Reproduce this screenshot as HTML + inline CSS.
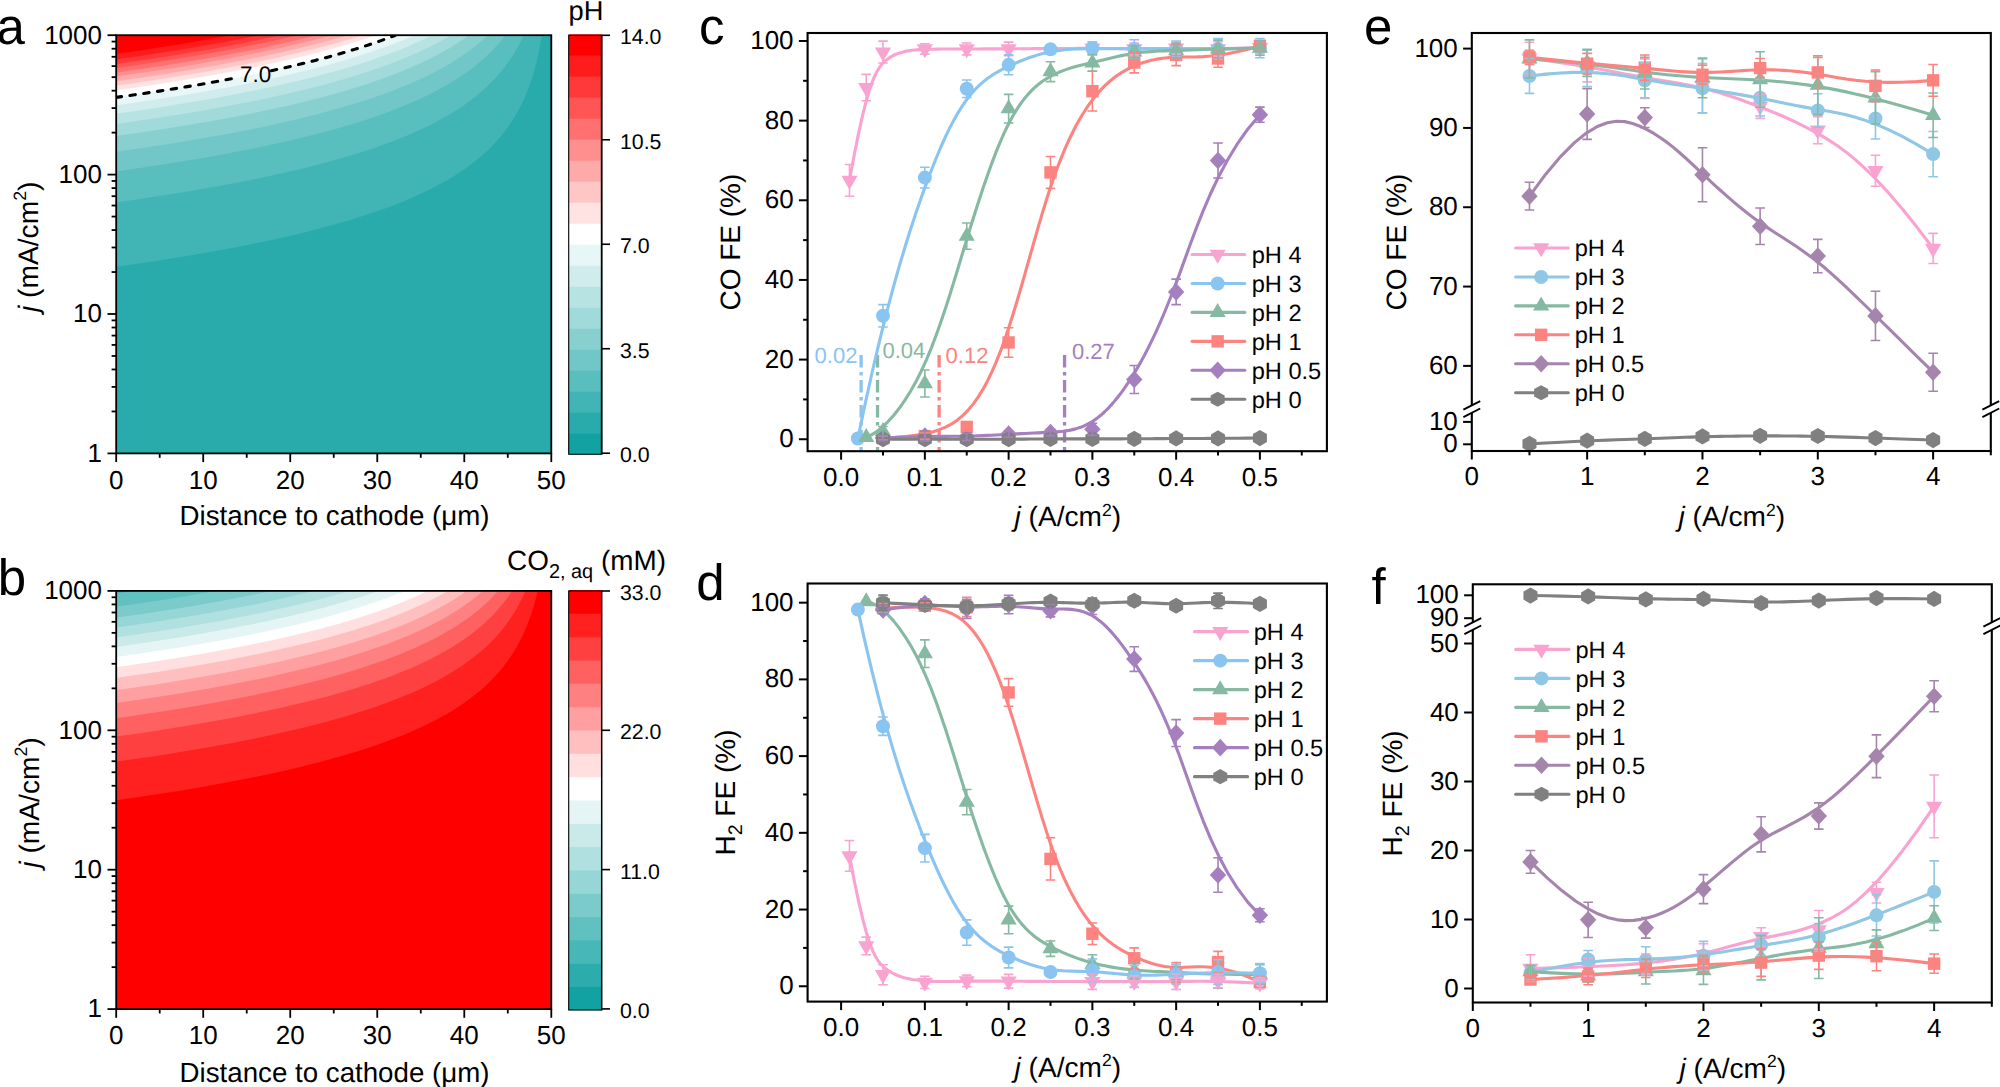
<!DOCTYPE html>
<html lang="en"><head><meta charset="utf-8"><title>Figure</title>
<style>html,body{margin:0;padding:0;background:#fff}svg{display:block}</style></head>
<body>
<svg width="2000" height="1087" viewBox="0 0 2000 1087" font-family='"Liberation Sans", sans-serif' text-rendering="geometricPrecision">
<rect width="2000" height="1087" fill="#fff"/>
<clipPath id="clipa"><rect x="116.2" y="35.2" width="435.1" height="418.2"/></clipPath>
<g clip-path="url(#clipa)">
<rect x="116.2" y="35.2" width="435.1" height="418.2" fill="#2aabab"/>
<path d="M116.2,266.7 130.27,264.71 144.1,262.69 157.7,260.63 171.05,258.54 184.18,256.42 197.06,254.25 209.71,252.05 222.13,249.81 234.3,247.53 246.24,245.2 257.95,242.83 269.41,240.42 280.65,237.96 291.64,235.45 302.4,232.89 312.92,230.27 323.21,227.6 333.25,224.87 343.07,222.09 352.64,219.24 361.98,216.32 371.08,213.34 379.95,210.28 388.58,207.15 396.98,203.95 405.13,200.66 413.05,197.29 420.74,193.83 428.19,190.27 435.4,186.62 442.37,182.86 449.11,178.99 455.61,175.01 461.88,170.91 467.91,166.69 473.7,162.33 479.26,157.83 484.58,153.18 489.66,148.39 494.51,143.43 499.12,138.3 503.49,133 507.63,127.52 511.53,121.86 515.2,116 518.62,109.96 521.82,103.74 524.77,97.34 527.49,90.8 529.97,84.13 532.22,77.39 534.23,70.65 536,64.01 537.54,57.6 538.84,51.59 539.9,46.19 540.73,41.62 541.32,38.14 541.68,35.95 541.8,35.2 L114.2,33.2 L114.2,266.7 Z" fill="#41b5b5"/>
<path d="M116.2,202.3 129.67,200.4 142.92,198.46 155.94,196.5 168.73,194.51 181.3,192.49 193.64,190.43 205.75,188.35 217.64,186.23 229.3,184.08 240.73,181.89 251.94,179.66 262.92,177.4 273.68,175.1 284.21,172.76 294.51,170.38 304.59,167.95 314.44,165.49 324.06,162.98 333.45,160.42 342.63,157.81 351.57,155.16 360.29,152.46 368.78,149.71 377.04,146.9 385.08,144.04 392.89,141.13 400.48,138.16 407.84,135.13 414.97,132.04 421.87,128.9 428.55,125.69 435.01,122.42 441.23,119.09 447.23,115.69 453.01,112.24 458.55,108.72 463.88,105.14 468.97,101.51 473.84,97.82 478.48,94.08 482.9,90.29 487.08,86.47 491.05,82.61 494.78,78.73 498.29,74.85 501.58,70.98 504.63,67.14 507.46,63.35 510.07,59.65 512.44,56.05 514.6,52.6 516.52,49.34 518.22,46.31 519.69,43.56 520.93,41.12 521.95,39.06 522.75,37.4 523.31,36.19 523.65,35.45 523.77,35.2 L114.2,33.2 L114.2,202.3 Z" fill="#59bebe"/>
<path d="M116.2,171.4 129.07,169.58 141.72,167.74 154.15,165.87 166.37,163.98 178.37,162.07 190.15,160.12 201.72,158.15 213.07,156.15 224.21,154.13 235.13,152.07 245.83,149.98 256.32,147.87 266.59,145.72 276.65,143.55 286.49,141.34 296.11,139.1 305.52,136.82 314.71,134.52 323.68,132.18 332.44,129.8 340.98,127.39 349.3,124.95 357.41,122.46 365.31,119.95 372.98,117.4 380.44,114.81 387.69,112.19 394.71,109.53 401.53,106.84 408.12,104.11 414.5,101.35 420.66,98.56 426.61,95.74 432.34,92.89 437.85,90.02 443.15,87.12 448.23,84.21 453.1,81.28 457.75,78.35 462.18,75.41 466.4,72.47 470.4,69.55 474.18,66.65 477.75,63.78 481.1,60.96 484.24,58.19 487.16,55.5 489.86,52.89 492.35,50.39 494.62,48.01 496.67,45.78 498.51,43.71 500.13,41.82 501.54,40.13 502.73,38.67 503.7,37.44 504.46,36.47 505,35.77 505.32,35.34 505.43,35.2 L114.2,33.2 L114.2,171.4 Z" fill="#71c7c7"/>
<path d="M116.2,151.7 128.48,149.97 140.56,148.21 152.43,146.44 164.09,144.64 175.55,142.82 186.8,140.98 197.85,139.12 208.68,137.23 219.32,135.32 229.74,133.39 239.96,131.44 249.97,129.46 259.78,127.46 269.38,125.43 278.77,123.38 287.96,121.3 296.94,119.2 305.71,117.08 314.28,114.93 322.64,112.75 330.79,110.55 338.74,108.33 346.48,106.09 354.02,103.82 361.34,101.52 368.47,99.21 375.38,96.88 382.09,94.52 388.59,92.15 394.89,89.76 400.98,87.36 406.86,84.94 412.54,82.51 418.01,80.08 423.28,77.64 428.33,75.2 433.18,72.76 437.83,70.33 442.27,67.92 446.5,65.52 450.52,63.15 454.34,60.81 457.96,58.51 461.36,56.26 464.56,54.07 467.56,51.94 470.34,49.89 472.92,47.93 475.3,46.07 477.46,44.32 479.43,42.69 481.18,41.19 482.73,39.84 484.07,38.64 485.21,37.61 486.14,36.75 486.86,36.08 487.37,35.59 487.68,35.3 487.79,35.2 L114.2,33.2 L114.2,151.7 Z" fill="#88d0d0"/>
<path d="M116.2,136 127.86,134.36 139.33,132.69 150.6,131.01 161.67,129.32 172.55,127.6 183.23,125.87 193.71,124.12 204,122.35 214.1,120.57 223.99,118.77 233.7,116.94 243.2,115.1 252.51,113.25 261.62,111.37 270.54,109.48 279.26,107.57 287.79,105.64 296.12,103.7 304.25,101.73 312.19,99.76 319.93,97.76 327.48,95.76 334.83,93.74 341.98,91.7 348.94,89.65 355.7,87.6 362.27,85.53 368.64,83.46 374.81,81.37 380.79,79.29 386.57,77.2 392.15,75.11 397.54,73.02 402.74,70.94 407.74,68.87 412.54,66.81 417.14,64.77 421.55,62.75 425.77,60.75 429.78,58.78 433.61,56.84 437.23,54.95 440.66,53.1 443.9,51.3 446.93,49.57 449.78,47.9 452.42,46.3 454.87,44.78 457.13,43.35 459.18,42.01 461.05,40.77 462.71,39.65 464.18,38.63 465.46,37.74 466.53,36.98 467.41,36.34 468.1,35.85 468.59,35.49 468.88,35.27 468.98,35.2 L114.2,33.2 L114.2,136 Z" fill="#a0dada"/>
<path d="M116.2,124 127.26,122.44 138.14,120.87 148.84,119.28 159.34,117.68 169.66,116.06 179.8,114.43 189.75,112.79 199.51,111.13 209.09,109.46 218.48,107.78 227.69,106.08 236.71,104.37 245.54,102.64 254.19,100.91 262.65,99.16 270.92,97.4 279.01,95.62 286.92,93.84 294.63,92.05 302.17,90.24 309.51,88.43 316.67,86.61 323.64,84.79 330.43,82.95 337.03,81.12 343.45,79.28 349.68,77.43 355.72,75.59 361.58,73.75 367.25,71.91 372.74,70.08 378.04,68.26 383.15,66.44 388.08,64.64 392.82,62.86 397.38,61.09 401.75,59.35 405.93,57.63 409.93,55.94 413.74,54.28 417.37,52.67 420.81,51.09 424.07,49.56 427.13,48.08 430.02,46.66 432.71,45.3 435.22,44.01 437.55,42.78 439.69,41.63 441.64,40.56 443.41,39.58 444.99,38.69 446.38,37.89 447.59,37.19 448.61,36.59 449.45,36.09 450.1,35.7 450.57,35.42 450.84,35.26 450.94,35.2 L114.2,33.2 L114.2,124 Z" fill="#b8e3e3"/>
<path d="M116.2,113.6 126.64,112.13 136.91,110.65 147,109.15 156.92,107.65 166.66,106.14 176.23,104.61 185.62,103.08 194.83,101.53 203.87,99.98 212.73,98.41 221.42,96.84 229.93,95.26 238.27,93.67 246.43,92.07 254.42,90.46 262.23,88.84 269.86,87.22 277.32,85.6 284.61,83.97 291.71,82.33 298.65,80.69 305.41,79.05 311.99,77.41 318.39,75.77 324.62,74.12 330.68,72.49 336.56,70.85 342.26,69.22 347.79,67.6 353.15,65.98 358.32,64.38 363.32,62.79 368.15,61.22 372.8,59.66 377.28,58.12 381.58,56.61 385.7,55.12 389.65,53.66 393.43,52.23 397.02,50.83 400.45,49.47 403.69,48.15 406.76,46.88 409.66,45.66 412.38,44.48 414.93,43.36 417.3,42.3 419.49,41.3 421.51,40.37 423.35,39.5 425.02,38.71 426.51,37.99 427.83,37.35 428.97,36.78 429.93,36.3 430.72,35.91 431.34,35.6 431.78,35.38 432.04,35.24 432.13,35.2 L114.2,33.2 L114.2,113.6 Z" fill="#d0ecec"/>
<path d="M116.2,105.3 126.06,103.91 135.76,102.51 145.3,101.11 154.66,99.7 163.86,98.28 172.9,96.85 181.77,95.41 190.47,93.97 199.01,92.52 207.38,91.06 215.59,89.6 223.63,88.13 231.5,86.66 239.21,85.18 246.76,83.7 254.13,82.22 261.35,80.73 268.39,79.24 275.27,77.75 281.99,76.26 288.53,74.77 294.92,73.28 301.13,71.79 307.19,70.31 313.07,68.83 318.79,67.36 324.34,65.9 329.73,64.44 334.96,63 340.01,61.57 344.9,60.15 349.63,58.75 354.19,57.36 358.58,56 362.81,54.66 366.87,53.34 370.76,52.05 374.5,50.78 378.06,49.55 381.46,48.35 384.69,47.19 387.76,46.06 390.66,44.98 393.39,43.94 395.96,42.94 398.37,42 400.61,41.11 402.68,40.27 404.59,39.49 406.33,38.76 407.9,38.1 409.31,37.51 410.55,36.97 411.63,36.51 412.54,36.11 413.29,35.78 413.87,35.53 414.28,35.35 414.53,35.24 414.62,35.2 L114.2,33.2 L114.2,105.3 Z" fill="#e7f6f6"/>
<path d="M116.2,97.4 125.43,96.1 134.51,94.8 143.44,93.49 152.21,92.17 160.82,90.85 169.28,89.52 177.58,88.19 185.73,86.86 193.72,85.52 201.56,84.18 209.24,82.83 216.77,81.49 224.14,80.14 231.36,78.79 238.42,77.44 245.33,76.08 252.08,74.73 258.68,73.38 265.12,72.04 271.4,70.69 277.53,69.35 283.51,68.02 289.33,66.69 294.99,65.36 300.5,64.05 305.86,62.74 311.06,61.44 316.1,60.16 320.99,58.89 325.72,57.63 330.3,56.39 334.72,55.16 338.99,53.96 343.11,52.78 347.06,51.61 350.87,50.48 354.51,49.36 358,48.28 361.34,47.23 364.52,46.2 367.55,45.21 370.42,44.26 373.14,43.34 375.7,42.47 378.1,41.63 380.35,40.84 382.45,40.09 384.39,39.4 386.17,38.74 387.8,38.14 389.28,37.6 390.6,37.1 391.76,36.66 392.77,36.28 393.62,35.95 394.32,35.68 394.86,35.47 395.25,35.32 395.49,35.23 395.56,35.2 L114.2,33.2 L114.2,97.4 Z" fill="#ffffff"/>
<path d="M116.2,90.3 124.79,89.09 133.24,87.88 141.55,86.67 149.71,85.45 157.73,84.23 165.6,83 173.32,81.78 180.91,80.55 188.35,79.32 195.64,78.09 202.79,76.87 209.79,75.64 216.66,74.41 223.37,73.18 229.94,71.95 236.37,70.73 242.65,69.51 248.79,68.3 254.79,67.08 260.64,65.88 266.34,64.68 271.9,63.48 277.32,62.3 282.59,61.12 287.72,59.96 292.7,58.8 297.54,57.66 302.23,56.53 306.78,55.41 311.19,54.31 315.45,53.23 319.57,52.16 323.54,51.11 327.37,50.09 331.05,49.08 334.59,48.1 337.98,47.15 341.23,46.22 344.34,45.32 347.3,44.44 350.11,43.6 352.79,42.79 355.31,42.02 357.7,41.28 359.94,40.57 362.03,39.91 363.98,39.28 365.79,38.69 367.45,38.15 368.96,37.65 370.34,37.19 371.56,36.78 372.65,36.41 373.59,36.09 374.38,35.82 375.03,35.6 375.53,35.42 375.9,35.3 376.11,35.22 376.18,35.2 L114.2,33.2 L114.2,90.3 Z" fill="#ffe3e3"/>
<path d="M116.2,85.7 124.34,84.56 132.34,83.41 140.2,82.26 147.93,81.12 155.52,79.97 162.97,78.82 170.29,77.66 177.47,76.51 184.51,75.36 191.42,74.21 198.19,73.06 204.82,71.91 211.31,70.77 217.67,69.62 223.9,68.48 229.98,67.35 235.93,66.22 241.74,65.09 247.42,63.97 252.96,62.86 258.36,61.75 263.62,60.65 268.75,59.56 273.74,58.48 278.6,57.42 283.32,56.36 287.9,55.32 292.34,54.28 296.65,53.27 300.82,52.27 304.85,51.29 308.75,50.32 312.51,49.38 316.14,48.45 319.62,47.54 322.98,46.66 326.19,45.8 329.27,44.97 332.21,44.16 335.01,43.38 337.68,42.63 340.21,41.91 342.6,41.22 344.86,40.56 346.98,39.94 348.96,39.35 350.8,38.79 352.51,38.28 354.09,37.79 355.52,37.35 356.82,36.95 357.98,36.59 359.01,36.26 359.9,35.98 360.65,35.75 361.27,35.55 361.75,35.4 362.09,35.29 362.29,35.22 362.36,35.2 L114.2,33.2 L114.2,85.7 Z" fill="#ffc6c6"/>
<path d="M116.2,81.2 123.86,80.13 131.38,79.05 138.78,77.97 146.05,76.9 153.19,75.82 160.2,74.75 167.08,73.67 173.84,72.6 180.46,71.52 186.96,70.45 193.33,69.39 199.57,68.32 205.68,67.26 211.66,66.2 217.52,65.15 223.24,64.1 228.84,63.06 234.31,62.03 239.65,61 244.86,59.98 249.94,58.97 254.89,57.96 259.72,56.97 264.41,55.99 268.98,55.01 273.42,54.05 277.73,53.11 281.91,52.18 285.96,51.26 289.89,50.36 293.68,49.47 297.35,48.6 300.89,47.75 304.3,46.92 307.58,46.11 310.73,45.33 313.75,44.56 316.65,43.82 319.41,43.1 322.05,42.41 324.56,41.74 326.94,41.1 329.19,40.49 331.31,39.91 333.31,39.36 335.17,38.84 336.91,38.35 338.52,37.89 340,37.47 341.35,37.08 342.57,36.73 343.66,36.41 344.63,36.13 345.47,35.88 346.17,35.68 346.75,35.51 347.2,35.37 347.52,35.28 347.72,35.22 347.78,35.2 L114.2,33.2 L114.2,81.2 Z" fill="#ffaaaa"/>
<path d="M116.2,76.6 123.32,75.6 130.33,74.6 137.21,73.6 143.98,72.61 150.62,71.61 157.15,70.62 163.55,69.62 169.84,68.63 176.01,67.65 182.05,66.66 187.98,65.69 193.79,64.71 199.47,63.74 205.04,62.77 210.49,61.81 215.82,60.86 221.02,59.91 226.11,58.97 231.08,58.04 235.93,57.12 240.66,56.2 245.27,55.3 249.76,54.4 254.13,53.52 258.38,52.65 262.51,51.79 266.52,50.94 270.41,50.11 274.18,49.29 277.84,48.48 281.37,47.7 284.78,46.93 288.07,46.17 291.25,45.44 294.3,44.73 297.23,44.03 300.05,43.36 302.74,42.7 305.31,42.07 307.77,41.47 310.1,40.88 312.32,40.32 314.41,39.79 316.39,39.28 318.25,38.8 319.98,38.35 321.6,37.93 323.09,37.53 324.47,37.16 325.73,36.83 326.87,36.52 327.88,36.25 328.78,36 329.56,35.79 330.22,35.61 330.76,35.46 331.18,35.35 331.48,35.27 331.66,35.22 331.72,35.2 L114.2,33.2 L114.2,76.6 Z" fill="#ff8e8e"/>
<path d="M116.2,72.6 122.83,71.67 129.35,70.74 135.75,69.82 142.04,68.89 148.23,67.97 154.3,67.05 160.26,66.14 166.11,65.22 171.84,64.32 177.47,63.41 182.98,62.51 188.39,61.62 193.68,60.73 198.86,59.84 203.93,58.97 208.88,58.1 213.73,57.23 218.46,56.38 223.09,55.53 227.6,54.69 232,53.87 236.29,53.05 240.46,52.24 244.53,51.44 248.49,50.66 252.33,49.88 256.06,49.12 259.68,48.38 263.19,47.64 266.59,46.92 269.87,46.22 273.05,45.54 276.11,44.86 279.06,44.21 281.91,43.58 284.63,42.96 287.25,42.36 289.76,41.79 292.15,41.23 294.44,40.69 296.61,40.18 298.67,39.69 300.62,39.22 302.46,38.77 304.18,38.35 305.8,37.95 307.3,37.58 308.7,37.24 309.98,36.91 311.15,36.62 312.21,36.35 313.15,36.11 313.99,35.9 314.71,35.72 315.32,35.56 315.83,35.43 316.22,35.33 316.49,35.26 316.66,35.21 316.72,35.2 L114.2,33.2 L114.2,72.6 Z" fill="#ff7171"/>
<path d="M116.2,68 122.22,67.16 128.13,66.32 133.94,65.48 139.66,64.64 145.27,63.81 150.78,62.99 156.19,62.16 161.5,61.34 166.7,60.53 171.81,59.72 176.82,58.92 181.72,58.12 186.52,57.33 191.22,56.54 195.82,55.76 200.32,54.99 204.72,54.23 209.02,53.47 213.22,52.73 217.31,51.99 221.3,51.26 225.2,50.54 228.99,49.83 232.68,49.14 236.27,48.45 239.76,47.78 243.14,47.12 246.43,46.47 249.61,45.83 252.7,45.21 255.68,44.6 258.56,44.01 261.34,43.43 264.02,42.87 266.6,42.32 269.08,41.79 271.45,41.28 273.73,40.79 275.9,40.31 277.98,39.85 279.95,39.42 281.82,39 283.59,38.6 285.26,38.22 286.82,37.86 288.29,37.52 289.65,37.21 290.92,36.92 292.08,36.65 293.14,36.4 294.1,36.17 294.96,35.97 295.72,35.79 296.38,35.63 296.93,35.5 297.39,35.39 297.74,35.31 298,35.25 298.15,35.21 298.2,35.2 L114.2,33.2 L114.2,68 Z" fill="#ff5555"/>
<path d="M116.2,64 121.64,63.24 127,62.48 132.26,61.72 137.43,60.97 142.51,60.22 147.5,59.48 152.39,58.74 157.19,58.01 161.91,57.28 166.53,56.56 171.06,55.84 175.5,55.13 179.84,54.43 184.1,53.73 188.26,53.04 192.33,52.36 196.31,51.68 200.2,51.01 204,50.35 207.71,49.71 211.32,49.07 214.84,48.43 218.27,47.81 221.61,47.2 224.86,46.6 228.02,46.02 231.09,45.44 234.06,44.87 236.94,44.32 239.73,43.78 242.43,43.25 245.04,42.74 247.56,42.24 249.98,41.76 252.32,41.29 254.56,40.83 256.71,40.39 258.77,39.97 260.73,39.56 262.61,39.16 264.39,38.79 266.09,38.43 267.69,38.09 269.2,37.77 270.62,37.46 271.94,37.18 273.18,36.91 274.32,36.66 275.37,36.43 276.34,36.22 277.2,36.02 277.98,35.85 278.67,35.7 279.26,35.57 279.77,35.46 280.18,35.36 280.5,35.29 280.73,35.24 280.87,35.21 280.91,35.2 L114.2,33.2 L114.2,64 Z" fill="#ff3939"/>
<path d="M116.2,59.4 120.94,58.74 125.6,58.08 130.18,57.42 134.68,56.77 139.1,56.13 143.44,55.49 147.7,54.85 151.88,54.22 155.98,53.59 160.01,52.98 163.95,52.36 167.81,51.76 171.59,51.16 175.3,50.56 178.92,49.98 182.47,49.4 185.93,48.83 189.32,48.26 192.62,47.71 195.85,47.16 198.99,46.62 202.06,46.09 205.05,45.57 207.95,45.06 210.78,44.56 213.53,44.07 216.2,43.59 218.79,43.12 221.29,42.66 223.72,42.22 226.07,41.78 228.34,41.36 230.53,40.94 232.64,40.54 234.68,40.16 236.63,39.78 238.5,39.42 240.29,39.07 242,38.74 243.64,38.42 245.19,38.11 246.66,37.82 248.06,37.54 249.37,37.28 250.61,37.03 251.76,36.8 252.84,36.58 253.83,36.38 254.75,36.19 255.58,36.02 256.34,35.87 257.02,35.73 257.61,35.6 258.13,35.5 258.57,35.41 258.93,35.33 259.21,35.27 259.41,35.23 259.53,35.21 259.57,35.2 L114.2,33.2 L114.2,59.4 Z" fill="#ff1c1c"/>
<path d="M116.2,53.8 120,53.27 123.74,52.74 127.42,52.22 131.03,51.7 134.58,51.19 138.07,50.68 141.49,50.17 144.85,49.68 148.14,49.18 151.37,48.7 154.53,48.22 157.63,47.74 160.67,47.27 163.64,46.81 166.55,46.35 169.4,45.9 172.18,45.46 174.9,45.03 177.55,44.6 180.14,44.18 182.67,43.76 185.13,43.36 187.53,42.96 189.86,42.57 192.13,42.19 194.34,41.82 196.48,41.45 198.56,41.1 200.57,40.75 202.52,40.41 204.41,40.08 206.23,39.77 207.99,39.46 209.68,39.16 211.31,38.87 212.88,38.59 214.38,38.32 215.82,38.06 217.19,37.81 218.5,37.57 219.75,37.34 220.93,37.13 222.05,36.92 223.11,36.73 224.1,36.55 225.03,36.37 225.89,36.21 226.69,36.06 227.42,35.93 228.1,35.8 228.7,35.69 229.25,35.59 229.73,35.5 230.14,35.42 230.49,35.35 230.78,35.3 231,35.25 231.16,35.22 231.26,35.21 231.29,35.2 L114.2,33.2 L114.2,53.8 Z" fill="#ff0000"/>
</g>
<path d="M116.2,97.4 125.43,96.1 134.51,94.8 143.44,93.49 152.21,92.17 160.82,90.85 169.28,89.52 177.58,88.19 185.73,86.86 193.72,85.52 201.56,84.18 209.24,82.83 216.77,81.49 224.14,80.14 231.36,78.79" fill="none" stroke="#000" stroke-width="3.1" stroke-linecap="round" stroke-dasharray="5.4 8.5" clip-path="url(#clipa)"/>
<path d="M271.4,70.69 277.53,69.35 283.51,68.02 289.33,66.69 294.99,65.36 300.5,64.05 305.86,62.74 311.06,61.44 316.1,60.16 320.99,58.89 325.72,57.63 330.3,56.39 334.72,55.16 338.99,53.96 343.11,52.78 347.06,51.61 350.87,50.48 354.51,49.36 358,48.28 361.34,47.23 364.52,46.2 367.55,45.21 370.42,44.26 373.14,43.34 375.7,42.47 378.1,41.63 380.35,40.84 382.45,40.09 384.39,39.4 386.17,38.74 387.8,38.14 389.28,37.6 390.6,37.1 391.76,36.66 392.77,36.28 393.62,35.95 394.32,35.68 394.86,35.47 395.25,35.32 395.49,35.23 395.56,35.2" fill="none" stroke="#000" stroke-width="3.1" stroke-linecap="round" stroke-dasharray="5.4 8.5" clip-path="url(#clipa)"/>
<rect x="116.2" y="35.2" width="435.1" height="418.2" fill="none" stroke="#000" stroke-width="1.8"/>
<line x1="107.5" y1="453.4" x2="116.2" y2="453.4" stroke="#000" stroke-width="1.8"/>
<line x1="111.6" y1="411.44" x2="116.2" y2="411.44" stroke="#000" stroke-width="1.8"/>
<line x1="111.6" y1="386.89" x2="116.2" y2="386.89" stroke="#000" stroke-width="1.8"/>
<line x1="111.6" y1="369.47" x2="116.2" y2="369.47" stroke="#000" stroke-width="1.8"/>
<line x1="111.6" y1="355.96" x2="116.2" y2="355.96" stroke="#000" stroke-width="1.8"/>
<line x1="111.6" y1="344.93" x2="116.2" y2="344.93" stroke="#000" stroke-width="1.8"/>
<line x1="111.6" y1="335.59" x2="116.2" y2="335.59" stroke="#000" stroke-width="1.8"/>
<line x1="111.6" y1="327.51" x2="116.2" y2="327.51" stroke="#000" stroke-width="1.8"/>
<line x1="111.6" y1="320.38" x2="116.2" y2="320.38" stroke="#000" stroke-width="1.8"/>
<line x1="107.5" y1="314" x2="116.2" y2="314" stroke="#000" stroke-width="1.8"/>
<line x1="111.6" y1="272.04" x2="116.2" y2="272.04" stroke="#000" stroke-width="1.8"/>
<line x1="111.6" y1="247.49" x2="116.2" y2="247.49" stroke="#000" stroke-width="1.8"/>
<line x1="111.6" y1="230.07" x2="116.2" y2="230.07" stroke="#000" stroke-width="1.8"/>
<line x1="111.6" y1="216.56" x2="116.2" y2="216.56" stroke="#000" stroke-width="1.8"/>
<line x1="111.6" y1="205.53" x2="116.2" y2="205.53" stroke="#000" stroke-width="1.8"/>
<line x1="111.6" y1="196.19" x2="116.2" y2="196.19" stroke="#000" stroke-width="1.8"/>
<line x1="111.6" y1="188.11" x2="116.2" y2="188.11" stroke="#000" stroke-width="1.8"/>
<line x1="111.6" y1="180.98" x2="116.2" y2="180.98" stroke="#000" stroke-width="1.8"/>
<line x1="107.5" y1="174.6" x2="116.2" y2="174.6" stroke="#000" stroke-width="1.8"/>
<line x1="111.6" y1="132.64" x2="116.2" y2="132.64" stroke="#000" stroke-width="1.8"/>
<line x1="111.6" y1="108.09" x2="116.2" y2="108.09" stroke="#000" stroke-width="1.8"/>
<line x1="111.6" y1="90.67" x2="116.2" y2="90.67" stroke="#000" stroke-width="1.8"/>
<line x1="111.6" y1="77.16" x2="116.2" y2="77.16" stroke="#000" stroke-width="1.8"/>
<line x1="111.6" y1="66.13" x2="116.2" y2="66.13" stroke="#000" stroke-width="1.8"/>
<line x1="111.6" y1="56.79" x2="116.2" y2="56.79" stroke="#000" stroke-width="1.8"/>
<line x1="111.6" y1="48.71" x2="116.2" y2="48.71" stroke="#000" stroke-width="1.8"/>
<line x1="111.6" y1="41.58" x2="116.2" y2="41.58" stroke="#000" stroke-width="1.8"/>
<line x1="107.5" y1="35.2" x2="116.2" y2="35.2" stroke="#000" stroke-width="1.8"/>
<line x1="116.2" y1="453.4" x2="116.2" y2="462.1" stroke="#000" stroke-width="1.8"/>
<line x1="159.71" y1="453.4" x2="159.71" y2="457.8" stroke="#000" stroke-width="1.8"/>
<line x1="203.22" y1="453.4" x2="203.22" y2="462.1" stroke="#000" stroke-width="1.8"/>
<line x1="246.73" y1="453.4" x2="246.73" y2="457.8" stroke="#000" stroke-width="1.8"/>
<line x1="290.24" y1="453.4" x2="290.24" y2="462.1" stroke="#000" stroke-width="1.8"/>
<line x1="333.75" y1="453.4" x2="333.75" y2="457.8" stroke="#000" stroke-width="1.8"/>
<line x1="377.26" y1="453.4" x2="377.26" y2="462.1" stroke="#000" stroke-width="1.8"/>
<line x1="420.77" y1="453.4" x2="420.77" y2="457.8" stroke="#000" stroke-width="1.8"/>
<line x1="464.28" y1="453.4" x2="464.28" y2="462.1" stroke="#000" stroke-width="1.8"/>
<line x1="507.79" y1="453.4" x2="507.79" y2="457.8" stroke="#000" stroke-width="1.8"/>
<line x1="551.3" y1="453.4" x2="551.3" y2="462.1" stroke="#000" stroke-width="1.8"/>
<text x="102" y="461.7" font-size="26" text-anchor="end" fill="#000">1</text>
<text x="102" y="322.3" font-size="26" text-anchor="end" fill="#000">10</text>
<text x="102" y="182.9" font-size="26" text-anchor="end" fill="#000">100</text>
<text x="102" y="43.5" font-size="26" text-anchor="end" fill="#000">1000</text>
<text x="116.2" y="488.7" font-size="26" text-anchor="middle" fill="#000">0</text>
<text x="203.22" y="488.7" font-size="26" text-anchor="middle" fill="#000">10</text>
<text x="290.24" y="488.7" font-size="26" text-anchor="middle" fill="#000">20</text>
<text x="377.26" y="488.7" font-size="26" text-anchor="middle" fill="#000">30</text>
<text x="464.28" y="488.7" font-size="26" text-anchor="middle" fill="#000">40</text>
<text x="551.3" y="488.7" font-size="26" text-anchor="middle" fill="#000">50</text>
<text x="334.55" y="524.5" font-size="27.7" text-anchor="middle" fill="#000">Distance to cathode (μm)</text>
<text x="38.5" y="246.8" font-size="28.2" text-anchor="middle" fill="#000" transform="rotate(-90 38.5 246.8)"><tspan font-style="italic">j</tspan> (mA/cm<tspan font-size="17.8" dy="-12">2</tspan><tspan dy="12">)</tspan></text>
<text x="-3.6" y="44" font-size="51" text-anchor="start" fill="#000">a</text>
<rect x="568.7" y="433.01" width="33" height="21.58" fill="#12a2a2"/>
<rect x="568.7" y="412.03" width="33" height="21.58" fill="#2aabab"/>
<rect x="568.7" y="391.04" width="33" height="21.58" fill="#41b5b5"/>
<rect x="568.7" y="370.06" width="33" height="21.58" fill="#59bebe"/>
<rect x="568.7" y="349.07" width="33" height="21.58" fill="#71c7c7"/>
<rect x="568.7" y="328.09" width="33" height="21.58" fill="#88d0d0"/>
<rect x="568.7" y="307.1" width="33" height="21.58" fill="#a0dada"/>
<rect x="568.7" y="286.12" width="33" height="21.58" fill="#b8e3e3"/>
<rect x="568.7" y="265.13" width="33" height="21.58" fill="#d0ecec"/>
<rect x="568.7" y="244.15" width="33" height="21.58" fill="#e7f6f6"/>
<rect x="568.7" y="223.16" width="33" height="21.58" fill="#ffffff"/>
<rect x="568.7" y="202.18" width="33" height="21.58" fill="#ffe3e3"/>
<rect x="568.7" y="181.19" width="33" height="21.58" fill="#ffc6c6"/>
<rect x="568.7" y="160.21" width="33" height="21.58" fill="#ffaaaa"/>
<rect x="568.7" y="139.23" width="33" height="21.58" fill="#ff8e8e"/>
<rect x="568.7" y="118.24" width="33" height="21.58" fill="#ff7171"/>
<rect x="568.7" y="97.26" width="33" height="21.58" fill="#ff5555"/>
<rect x="568.7" y="76.27" width="33" height="21.58" fill="#ff3939"/>
<rect x="568.7" y="55.29" width="33" height="21.58" fill="#ff1c1c"/>
<rect x="568.7" y="34.3" width="33" height="21.58" fill="#ff0000"/>
<path d="M601.7,35.3 H568.7 V454.3 H601.7" fill="none" stroke="#000" stroke-width="1.1"/>
<line x1="601.7" y1="34.8" x2="601.7" y2="454.7" stroke="#000" stroke-width="1.8"/>
<line x1="601.7" y1="453.2" x2="610" y2="453.2" stroke="#000" stroke-width="1.6"/>
<text x="620" y="462.1" font-size="21.3" text-anchor="start" fill="#000">0.0</text>
<line x1="601.7" y1="348.73" x2="610" y2="348.73" stroke="#000" stroke-width="1.6"/>
<text x="620" y="357.62" font-size="21.3" text-anchor="start" fill="#000">3.5</text>
<line x1="601.7" y1="244.25" x2="610" y2="244.25" stroke="#000" stroke-width="1.6"/>
<text x="620" y="253.15" font-size="21.3" text-anchor="start" fill="#000">7.0</text>
<line x1="601.7" y1="139.78" x2="610" y2="139.78" stroke="#000" stroke-width="1.6"/>
<text x="620" y="148.68" font-size="21.3" text-anchor="start" fill="#000">10.5</text>
<line x1="601.7" y1="35.3" x2="610" y2="35.3" stroke="#000" stroke-width="1.6"/>
<text x="620" y="44.2" font-size="21.3" text-anchor="start" fill="#000">14.0</text>
<text x="568.6" y="20" font-size="27.3">pH</text>
<text x="240.1" y="82.3" font-size="22.4" text-anchor="start" fill="#000">7.0</text>
<clipPath id="clipb"><rect x="116.2" y="590.9" width="435.1" height="418.2"/></clipPath>
<g clip-path="url(#clipb)">
<rect x="116.2" y="590.9" width="435.1" height="418.2" fill="#ff0000"/>
<path d="M116.2,800.3 130.13,798.33 143.83,796.33 157.29,794.29 170.51,792.23 183.51,790.13 196.27,787.99 208.79,785.81 221.08,783.6 233.14,781.35 244.96,779.06 256.55,776.72 267.91,774.34 279.03,771.92 289.91,769.45 300.57,766.93 310.98,764.36 321.17,761.74 331.12,759.06 340.83,756.33 350.32,753.54 359.56,750.69 368.58,747.77 377.36,744.79 385.9,741.74 394.21,738.62 402.29,735.43 410.13,732.15 417.74,728.8 425.12,725.36 432.26,721.83 439.16,718.22 445.84,714.5 452.27,710.69 458.48,706.77 464.45,702.75 470.18,698.61 475.69,694.36 480.95,689.99 485.99,685.49 490.79,680.87 495.35,676.12 499.68,671.25 503.78,666.24 507.64,661.11 511.27,655.85 514.67,650.49 517.83,645.02 520.75,639.49 523.44,633.9 525.9,628.31 528.13,622.76 530.12,617.32 531.87,612.08 533.39,607.15 534.68,602.63 535.74,598.66 536.56,595.39 537.14,592.94 537.49,591.42 537.61,590.9 L114.2,588.9 L114.2,800.3 Z" fill="#ff2020"/>
<path d="M116.2,761.7 129.73,759.79 143.03,757.85 156.1,755.88 168.94,753.88 181.56,751.85 193.95,749.78 206.11,747.69 218.04,745.56 229.75,743.39 241.23,741.19 252.49,738.95 263.51,736.68 274.31,734.36 284.88,732 295.22,729.61 305.34,727.17 315.23,724.68 324.89,722.15 334.33,719.58 343.53,716.95 352.51,714.28 361.26,711.55 369.79,708.77 378.09,705.94 386.16,703.05 394,700.1 401.62,697.1 409,694.04 416.16,690.91 423.1,687.72 429.8,684.47 436.28,681.15 442.54,677.77 448.56,674.32 454.36,670.8 459.93,667.22 465.27,663.57 470.38,659.86 475.27,656.09 479.93,652.26 484.36,648.38 488.57,644.45 492.55,640.48 496.3,636.49 499.82,632.48 503.12,628.47 506.19,624.49 509.03,620.55 511.64,616.68 514.03,612.93 516.19,609.31 518.12,605.89 519.83,602.69 521.31,599.78 522.56,597.2 523.58,595.01 524.37,593.25 524.94,591.95 525.28,591.17 525.4,590.9 L114.2,588.9 L114.2,761.7 Z" fill="#ff4040"/>
<path d="M116.2,736.6 129.29,734.75 142.15,732.88 154.8,730.98 167.23,729.05 179.43,727.09 191.42,725.11 203.19,723.1 214.73,721.05 226.06,718.98 237.17,716.88 248.05,714.74 258.72,712.58 269.17,710.37 279.39,708.14 289.4,705.87 299.19,703.56 308.76,701.22 318.1,698.84 327.23,696.42 336.14,693.97 344.83,691.47 353.29,688.94 361.54,686.36 369.57,683.74 377.38,681.09 384.97,678.39 392.33,675.64 399.48,672.86 406.41,670.03 413.12,667.16 419.61,664.25 425.87,661.3 431.92,658.3 437.75,655.27 443.36,652.21 448.75,649.11 453.92,645.98 458.86,642.82 463.59,639.64 468.1,636.44 472.39,633.24 476.46,630.03 480.31,626.84 483.94,623.66 487.35,620.52 490.54,617.42 493.51,614.39 496.25,611.44 498.78,608.59 501.09,605.87 503.18,603.29 505.05,600.89 506.7,598.7 508.13,596.72 509.34,595 510.33,593.56 511.1,592.41 511.65,591.58 511.98,591.07 512.09,590.9 L114.2,588.9 L114.2,736.6 Z" fill="#ff6060"/>
<path d="M116.2,718.2 128.83,716.42 141.24,714.61 153.44,712.78 165.43,710.93 177.21,709.05 188.77,707.15 200.13,705.23 211.27,703.27 222.19,701.3 232.91,699.29 243.42,697.26 253.71,695.2 263.79,693.12 273.65,691 283.31,688.86 292.75,686.69 301.98,684.49 311,682.26 319.81,680 328.4,677.71 336.78,675.39 344.95,673.04 352.91,670.65 360.66,668.24 368.19,665.8 375.51,663.33 382.62,660.83 389.52,658.31 396.2,655.75 402.67,653.17 408.93,650.57 414.98,647.94 420.82,645.29 426.44,642.62 431.85,639.94 437.05,637.25 442.04,634.54 446.81,631.84 451.37,629.14 455.72,626.44 459.86,623.76 463.79,621.11 467.5,618.48 471,615.9 474.29,613.36 477.37,610.9 480.23,608.5 482.89,606.2 485.33,604 487.55,601.92 489.57,599.98 491.37,598.18 492.96,596.55 494.34,595.1 495.51,593.85 496.47,592.8 497.21,591.98 497.74,591.38 498.06,591.02 498.16,590.9 L114.2,588.9 L114.2,718.2 Z" fill="#ff8080"/>
<path d="M116.2,703 128.32,701.29 140.25,699.56 151.96,697.81 163.48,696.04 174.79,694.24 185.89,692.43 196.79,690.6 207.49,688.74 217.99,686.87 228.28,684.97 238.36,683.05 248.25,681.1 257.93,679.14 267.4,677.15 276.67,675.14 285.74,673.11 294.61,671.05 303.27,668.98 311.72,666.88 319.98,664.75 328.03,662.61 335.87,660.44 343.51,658.26 350.95,656.05 358.19,653.82 365.22,651.58 372.04,649.32 378.66,647.04 385.08,644.74 391.3,642.44 397.31,640.12 403.12,637.79 408.72,635.46 414.12,633.12 419.32,630.78 424.31,628.45 429.1,626.12 433.68,623.8 438.07,621.51 442.24,619.23 446.22,616.98 449.99,614.77 453.55,612.6 456.92,610.48 460.07,608.42 463.03,606.43 465.78,604.51 468.33,602.68 470.67,600.95 472.81,599.32 474.75,597.81 476.48,596.42 478.01,595.17 479.33,594.07 480.45,593.12 481.37,592.33 482.08,591.71 482.59,591.26 482.9,590.99 483,590.9 L114.2,588.9 L114.2,703 Z" fill="#ff9f9f"/>
<path d="M116.2,690.1 127.79,688.47 139.18,686.81 150.38,685.15 161.39,683.46 172.2,681.76 182.81,680.04 193.23,678.3 203.46,676.55 213.49,674.78 223.32,672.99 232.96,671.18 242.41,669.36 251.66,667.52 260.72,665.66 269.58,663.79 278.25,661.89 286.72,659.99 294.99,658.06 303.08,656.12 310.97,654.17 318.66,652.2 326.16,650.21 333.46,648.22 340.57,646.21 347.48,644.19 354.2,642.16 360.73,640.12 367.06,638.08 373.19,636.03 379.13,633.97 384.88,631.92 390.43,629.86 395.79,627.81 400.95,625.77 405.91,623.74 410.69,621.72 415.26,619.71 419.65,617.73 423.83,615.77 427.83,613.85 431.62,611.96 435.23,610.1 438.63,608.3 441.85,606.55 444.87,604.85 447.69,603.23 450.32,601.67 452.76,600.19 455,598.8 457.04,597.5 458.89,596.3 460.55,595.21 462.01,594.22 463.27,593.36 464.34,592.62 465.22,592.01 465.9,591.52 466.39,591.18 466.68,590.97 466.78,590.9 L114.2,588.9 L114.2,690.1 Z" fill="#ffbfbf"/>
<path d="M116.2,677.9 127.16,676.35 137.95,674.8 148.54,673.22 158.95,671.64 169.18,670.04 179.22,668.43 189.08,666.8 198.76,665.16 208.25,663.51 217.56,661.84 226.68,660.17 235.61,658.48 244.37,656.77 252.94,655.06 261.32,653.33 269.52,651.6 277.54,649.85 285.37,648.09 293.02,646.33 300.48,644.55 307.76,642.77 314.86,640.98 321.77,639.18 328.49,637.38 335.04,635.58 341.39,633.77 347.57,631.96 353.56,630.16 359.36,628.35 364.98,626.55 370.42,624.76 375.67,622.98 380.74,621.21 385.62,619.45 390.32,617.7 394.83,615.98 399.17,614.28 403.31,612.61 407.27,610.97 411.05,609.36 414.65,607.79 418.05,606.26 421.28,604.77 424.32,603.34 427.18,601.96 429.85,600.65 432.34,599.39 434.64,598.21 436.76,597.1 438.69,596.07 440.44,595.12 442.01,594.26 443.39,593.49 444.59,592.81 445.6,592.23 446.43,591.76 447.08,591.38 447.54,591.12 447.82,590.95 447.91,590.9 L114.2,588.9 L114.2,677.9 Z" fill="#ffdfdf"/>
<path d="M116.2,667.1 126.5,665.65 136.62,664.19 146.57,662.72 156.35,661.24 165.96,659.75 175.39,658.25 184.65,656.74 193.73,655.22 202.65,653.69 211.39,652.15 219.95,650.61 228.35,649.05 236.57,647.49 244.61,645.93 252.49,644.35 260.19,642.77 267.72,641.18 275.07,639.59 282.26,638 289.26,636.4 296.1,634.8 302.76,633.2 309.25,631.6 315.57,630 321.71,628.4 327.69,626.8 333.48,625.21 339.11,623.63 344.56,622.05 349.84,620.49 354.94,618.93 359.88,617.39 364.63,615.87 369.22,614.36 373.63,612.88 377.87,611.41 381.94,609.98 385.83,608.57 389.56,607.19 393.1,605.85 396.48,604.54 399.68,603.28 402.71,602.06 405.56,600.88 408.25,599.76 410.76,598.69 413.09,597.67 415.26,596.72 417.25,595.82 419.06,595 420.71,594.24 422.18,593.55 423.48,592.94 424.6,592.41 425.55,591.95 426.33,591.57 426.94,591.28 427.37,591.07 427.63,590.94 427.72,590.9 L114.2,588.9 L114.2,667.1 Z" fill="#ffffff"/>
<path d="M116.2,657 125.76,655.66 135.15,654.3 144.39,652.95 153.46,651.58 162.37,650.21 171.13,648.83 179.72,647.45 188.15,646.06 196.42,644.66 204.53,643.26 212.48,641.86 220.27,640.45 227.9,639.04 235.36,637.62 242.67,636.21 249.82,634.79 256.81,633.37 263.63,631.95 270.3,630.53 276.8,629.11 283.14,627.7 289.33,626.29 295.35,624.88 301.21,623.48 306.91,622.08 312.45,620.69 317.83,619.31 323.05,617.94 328.11,616.59 333.01,615.24 337.75,613.91 342.32,612.6 346.74,611.31 351,610.04 355.09,608.79 359.03,607.56 362.8,606.36 366.41,605.19 369.87,604.05 373.16,602.94 376.29,601.86 379.26,600.83 382.07,599.83 384.72,598.87 387.21,597.96 389.54,597.1 391.71,596.28 393.72,595.51 395.56,594.8 397.25,594.14 398.78,593.54 400.14,592.99 401.34,592.51 402.39,592.09 403.27,591.73 403.99,591.43 404.56,591.2 404.96,591.03 405.2,590.93 405.28,590.9 L114.2,588.9 L114.2,657 Z" fill="#e5f5f5"/>
<path d="M116.2,646.9 124.88,645.68 133.41,644.46 141.8,643.23 150.04,642 158.14,640.76 166.09,639.53 173.89,638.29 181.55,637.05 189.06,635.8 196.43,634.56 203.65,633.32 210.72,632.07 217.65,630.83 224.44,629.58 231.07,628.34 237.57,627.1 243.91,625.86 250.11,624.63 256.16,623.4 262.07,622.18 267.83,620.96 273.45,619.75 278.92,618.54 284.24,617.35 289.42,616.16 294.46,614.99 299.34,613.83 304.08,612.68 308.68,611.54 313.13,610.42 317.43,609.32 321.59,608.23 325.6,607.16 329.46,606.12 333.18,605.09 336.76,604.09 340.19,603.12 343.47,602.17 346.6,601.25 349.59,600.36 352.44,599.5 355.14,598.67 357.69,597.88 360.1,597.12 362.36,596.4 364.47,595.72 366.44,595.08 368.27,594.48 369.94,593.92 371.48,593.41 372.86,592.94 374.1,592.52 375.2,592.14 376.14,591.81 376.95,591.54 377.6,591.31 378.11,591.13 378.48,591 378.7,590.93 378.77,590.9 L114.2,588.9 L114.2,646.9 Z" fill="#caeaea"/>
<path d="M116.2,637.4 123.91,636.32 131.49,635.23 138.94,634.15 146.26,633.07 153.46,631.98 160.52,630.9 167.45,629.81 174.25,628.73 180.93,627.65 187.47,626.57 193.89,625.49 200.17,624.42 206.33,623.35 212.35,622.28 218.25,621.22 224.02,620.16 229.65,619.11 235.16,618.06 240.54,617.03 245.79,615.99 250.91,614.97 255.89,613.96 260.75,612.95 265.48,611.96 270.08,610.98 274.55,610.01 278.9,609.05 283.11,608.11 287.19,607.18 291.14,606.26 294.96,605.37 298.66,604.49 302.22,603.63 305.66,602.79 308.96,601.97 312.13,601.17 315.18,600.4 318.1,599.64 320.88,598.92 323.54,598.21 326.07,597.54 328.46,596.89 330.73,596.27 332.87,595.68 334.88,595.12 336.76,594.59 338.51,594.1 340.13,593.64 341.62,593.21 342.98,592.81 344.21,592.45 345.31,592.13 346.28,591.84 347.12,591.6 347.84,591.38 348.42,591.21 348.87,591.07 349.2,590.98 349.39,590.92 349.46,590.9 L114.2,588.9 L114.2,637.4 Z" fill="#b0e0e0"/>
<path d="M116.2,627.5 122.73,626.59 129.14,625.67 135.45,624.76 141.64,623.85 147.73,622.95 153.71,622.04 159.57,621.14 165.33,620.25 170.98,619.35 176.52,618.47 181.94,617.58 187.26,616.7 192.47,615.83 197.57,614.97 202.56,614.11 207.44,613.25 212.21,612.41 216.87,611.57 221.42,610.74 225.86,609.92 230.2,609.11 234.42,608.31 238.53,607.51 242.53,606.74 246.43,605.97 250.21,605.21 253.88,604.47 257.45,603.74 260.9,603.02 264.25,602.32 267.48,601.63 270.61,600.96 273.62,600.31 276.53,599.67 279.33,599.05 282.01,598.45 284.59,597.87 287.06,597.31 289.42,596.77 291.66,596.24 293.8,595.74 295.83,595.26 297.75,594.81 299.56,594.37 301.26,593.96 302.85,593.58 304.33,593.22 305.7,592.88 306.96,592.57 308.11,592.28 309.16,592.02 310.09,591.79 310.91,591.58 311.62,591.4 312.23,591.25 312.72,591.12 313.1,591.03 313.38,590.96 313.54,590.91 313.6,590.9 L114.2,588.9 L114.2,627.5 Z" fill="#96d6d6"/>
<path d="M116.2,617.7 121.34,616.98 126.4,616.26 131.37,615.55 136.26,614.84 141.06,614.14 145.77,613.44 150.4,612.74 154.93,612.06 159.39,611.37 163.75,610.69 168.03,610.02 172.23,609.35 176.33,608.7 180.35,608.04 184.29,607.4 188.14,606.76 191.9,606.13 195.57,605.51 199.16,604.89 202.66,604.29 206.08,603.69 209.4,603.11 212.65,602.53 215.8,601.96 218.87,601.41 221.85,600.86 224.75,600.33 227.56,599.8 230.28,599.29 232.92,598.79 235.47,598.3 237.94,597.83 240.31,597.37 242.61,596.92 244.81,596.49 246.93,596.07 248.96,595.66 250.91,595.27 252.76,594.9 254.54,594.53 256.22,594.19 257.82,593.86 259.34,593.55 260.76,593.25 262.1,592.97 263.36,592.71 264.52,592.46 265.6,592.23 266.6,592.02 267.51,591.83 268.33,591.65 269.06,591.5 269.71,591.36 270.27,591.24 270.75,591.13 271.14,591.05 271.44,590.98 271.66,590.94 271.79,590.91 271.83,590.9 L114.2,588.9 L114.2,617.7 Z" fill="#7bcbcb"/>
<path d="M116.2,606.7 119.5,606.24 122.75,605.78 125.94,605.33 129.08,604.88 132.16,604.44 135.19,604 138.16,603.56 141.08,603.14 143.93,602.71 146.74,602.29 149.49,601.88 152.18,601.47 154.82,601.07 157.4,600.68 159.93,600.29 162.4,599.9 164.81,599.53 167.17,599.16 169.48,598.79 171.72,598.43 173.92,598.08 176.06,597.74 178.14,597.4 180.16,597.07 182.14,596.75 184.05,596.44 185.91,596.13 187.72,595.83 189.46,595.54 191.16,595.25 192.8,594.98 194.38,594.71 195.91,594.45 197.38,594.2 198.79,593.96 200.15,593.72 201.46,593.5 202.71,593.28 203.9,593.07 205.04,592.87 206.12,592.68 207.15,592.5 208.12,592.33 209.04,592.17 209.9,592.02 210.7,591.88 211.45,591.74 212.15,591.62 212.79,591.5 213.37,591.4 213.9,591.3 214.37,591.22 214.78,591.15 215.15,591.08 215.45,591.03 215.7,590.98 215.89,590.95 216.03,590.92 216.12,590.91 216.14,590.9 L114.2,588.9 L114.2,606.7 Z" fill="#61c1c1"/>
<path d="M116.2,593.5 116.8,593.42 117.4,593.33 117.98,593.25 118.56,593.17 119.12,593.09 119.68,593.01 120.22,592.94 120.75,592.86 121.28,592.79 121.79,592.72 122.29,592.65 122.78,592.58 123.27,592.51 123.74,592.44 124.2,592.38 124.65,592.31 125.1,592.25 125.53,592.19 125.95,592.13 126.36,592.07 126.76,592.01 127.15,591.96 127.53,591.9 127.91,591.85 128.27,591.8 128.62,591.75 128.96,591.7 129.29,591.65 129.61,591.61 129.92,591.56 130.22,591.52 130.51,591.48 130.79,591.44 131.06,591.4 131.31,591.36 131.56,591.32 131.8,591.29 132.03,591.26 132.25,591.22 132.46,591.19 132.66,591.17 132.84,591.14 133.02,591.11 133.19,591.09 133.35,591.07 133.49,591.04 133.63,591.02 133.76,591.01 133.88,590.99 133.98,590.97 134.08,590.96 134.17,590.95 134.24,590.94 134.31,590.93 134.36,590.92 134.41,590.91 134.44,590.91 134.47,590.9 134.49,590.9 134.49,590.9 L114.2,588.9 L114.2,593.5 Z" fill="#47b7b7"/>
</g>
<rect x="116.2" y="590.9" width="435.1" height="418.2" fill="none" stroke="#000" stroke-width="1.8"/>
<line x1="107.5" y1="1009.1" x2="116.2" y2="1009.1" stroke="#000" stroke-width="1.8"/>
<line x1="111.6" y1="967.14" x2="116.2" y2="967.14" stroke="#000" stroke-width="1.8"/>
<line x1="111.6" y1="942.59" x2="116.2" y2="942.59" stroke="#000" stroke-width="1.8"/>
<line x1="111.6" y1="925.17" x2="116.2" y2="925.17" stroke="#000" stroke-width="1.8"/>
<line x1="111.6" y1="911.66" x2="116.2" y2="911.66" stroke="#000" stroke-width="1.8"/>
<line x1="111.6" y1="900.63" x2="116.2" y2="900.63" stroke="#000" stroke-width="1.8"/>
<line x1="111.6" y1="891.29" x2="116.2" y2="891.29" stroke="#000" stroke-width="1.8"/>
<line x1="111.6" y1="883.21" x2="116.2" y2="883.21" stroke="#000" stroke-width="1.8"/>
<line x1="111.6" y1="876.08" x2="116.2" y2="876.08" stroke="#000" stroke-width="1.8"/>
<line x1="107.5" y1="869.7" x2="116.2" y2="869.7" stroke="#000" stroke-width="1.8"/>
<line x1="111.6" y1="827.74" x2="116.2" y2="827.74" stroke="#000" stroke-width="1.8"/>
<line x1="111.6" y1="803.19" x2="116.2" y2="803.19" stroke="#000" stroke-width="1.8"/>
<line x1="111.6" y1="785.77" x2="116.2" y2="785.77" stroke="#000" stroke-width="1.8"/>
<line x1="111.6" y1="772.26" x2="116.2" y2="772.26" stroke="#000" stroke-width="1.8"/>
<line x1="111.6" y1="761.23" x2="116.2" y2="761.23" stroke="#000" stroke-width="1.8"/>
<line x1="111.6" y1="751.89" x2="116.2" y2="751.89" stroke="#000" stroke-width="1.8"/>
<line x1="111.6" y1="743.81" x2="116.2" y2="743.81" stroke="#000" stroke-width="1.8"/>
<line x1="111.6" y1="736.68" x2="116.2" y2="736.68" stroke="#000" stroke-width="1.8"/>
<line x1="107.5" y1="730.3" x2="116.2" y2="730.3" stroke="#000" stroke-width="1.8"/>
<line x1="111.6" y1="688.34" x2="116.2" y2="688.34" stroke="#000" stroke-width="1.8"/>
<line x1="111.6" y1="663.79" x2="116.2" y2="663.79" stroke="#000" stroke-width="1.8"/>
<line x1="111.6" y1="646.37" x2="116.2" y2="646.37" stroke="#000" stroke-width="1.8"/>
<line x1="111.6" y1="632.86" x2="116.2" y2="632.86" stroke="#000" stroke-width="1.8"/>
<line x1="111.6" y1="621.83" x2="116.2" y2="621.83" stroke="#000" stroke-width="1.8"/>
<line x1="111.6" y1="612.49" x2="116.2" y2="612.49" stroke="#000" stroke-width="1.8"/>
<line x1="111.6" y1="604.41" x2="116.2" y2="604.41" stroke="#000" stroke-width="1.8"/>
<line x1="111.6" y1="597.28" x2="116.2" y2="597.28" stroke="#000" stroke-width="1.8"/>
<line x1="107.5" y1="590.9" x2="116.2" y2="590.9" stroke="#000" stroke-width="1.8"/>
<line x1="116.2" y1="1009.1" x2="116.2" y2="1017.8" stroke="#000" stroke-width="1.8"/>
<line x1="159.71" y1="1009.1" x2="159.71" y2="1013.5" stroke="#000" stroke-width="1.8"/>
<line x1="203.22" y1="1009.1" x2="203.22" y2="1017.8" stroke="#000" stroke-width="1.8"/>
<line x1="246.73" y1="1009.1" x2="246.73" y2="1013.5" stroke="#000" stroke-width="1.8"/>
<line x1="290.24" y1="1009.1" x2="290.24" y2="1017.8" stroke="#000" stroke-width="1.8"/>
<line x1="333.75" y1="1009.1" x2="333.75" y2="1013.5" stroke="#000" stroke-width="1.8"/>
<line x1="377.26" y1="1009.1" x2="377.26" y2="1017.8" stroke="#000" stroke-width="1.8"/>
<line x1="420.77" y1="1009.1" x2="420.77" y2="1013.5" stroke="#000" stroke-width="1.8"/>
<line x1="464.28" y1="1009.1" x2="464.28" y2="1017.8" stroke="#000" stroke-width="1.8"/>
<line x1="507.79" y1="1009.1" x2="507.79" y2="1013.5" stroke="#000" stroke-width="1.8"/>
<line x1="551.3" y1="1009.1" x2="551.3" y2="1017.8" stroke="#000" stroke-width="1.8"/>
<text x="102" y="1017.4" font-size="26" text-anchor="end" fill="#000">1</text>
<text x="102" y="878" font-size="26" text-anchor="end" fill="#000">10</text>
<text x="102" y="738.6" font-size="26" text-anchor="end" fill="#000">100</text>
<text x="102" y="599.2" font-size="26" text-anchor="end" fill="#000">1000</text>
<text x="116.2" y="1044.4" font-size="26" text-anchor="middle" fill="#000">0</text>
<text x="203.22" y="1044.4" font-size="26" text-anchor="middle" fill="#000">10</text>
<text x="290.24" y="1044.4" font-size="26" text-anchor="middle" fill="#000">20</text>
<text x="377.26" y="1044.4" font-size="26" text-anchor="middle" fill="#000">30</text>
<text x="464.28" y="1044.4" font-size="26" text-anchor="middle" fill="#000">40</text>
<text x="551.3" y="1044.4" font-size="26" text-anchor="middle" fill="#000">50</text>
<text x="334.55" y="1081.5" font-size="27.7" text-anchor="middle" fill="#000">Distance to cathode (μm)</text>
<text x="38.5" y="802.5" font-size="28.2" text-anchor="middle" fill="#000" transform="rotate(-90 38.5 802.5)"><tspan font-style="italic">j</tspan> (mA/cm<tspan font-size="17.8" dy="-12">2</tspan><tspan dy="12">)</tspan></text>
<text x="-2.2" y="595.4" font-size="51" text-anchor="start" fill="#000">b</text>
<rect x="568.7" y="986.38" width="33" height="23.92" fill="#12a2a2"/>
<rect x="568.7" y="963.07" width="33" height="23.92" fill="#2cacac"/>
<rect x="568.7" y="939.75" width="33" height="23.92" fill="#47b7b7"/>
<rect x="568.7" y="916.43" width="33" height="23.92" fill="#61c1c1"/>
<rect x="568.7" y="893.12" width="33" height="23.92" fill="#7bcbcb"/>
<rect x="568.7" y="869.8" width="33" height="23.92" fill="#96d6d6"/>
<rect x="568.7" y="846.48" width="33" height="23.92" fill="#b0e0e0"/>
<rect x="568.7" y="823.17" width="33" height="23.92" fill="#caeaea"/>
<rect x="568.7" y="799.85" width="33" height="23.92" fill="#e5f5f5"/>
<rect x="568.7" y="776.53" width="33" height="23.92" fill="#ffffff"/>
<rect x="568.7" y="753.22" width="33" height="23.92" fill="#ffdfdf"/>
<rect x="568.7" y="729.9" width="33" height="23.92" fill="#ffbfbf"/>
<rect x="568.7" y="706.58" width="33" height="23.92" fill="#ff9f9f"/>
<rect x="568.7" y="683.27" width="33" height="23.92" fill="#ff8080"/>
<rect x="568.7" y="659.95" width="33" height="23.92" fill="#ff6060"/>
<rect x="568.7" y="636.63" width="33" height="23.92" fill="#ff4040"/>
<rect x="568.7" y="613.32" width="33" height="23.92" fill="#ff2020"/>
<rect x="568.7" y="590" width="33" height="23.92" fill="#ff0000"/>
<path d="M601.7,591 H568.7 V1010 H601.7" fill="none" stroke="#000" stroke-width="1.1"/>
<line x1="601.7" y1="590.5" x2="601.7" y2="1010.4" stroke="#000" stroke-width="1.5"/>
<line x1="601.7" y1="1008.9" x2="610" y2="1008.9" stroke="#000" stroke-width="1.6"/>
<text x="620" y="1017.8" font-size="21.3" text-anchor="start" fill="#000">0.0</text>
<line x1="601.7" y1="869.6" x2="610" y2="869.6" stroke="#000" stroke-width="1.6"/>
<text x="620" y="878.5" font-size="21.3" text-anchor="start" fill="#000">11.0</text>
<line x1="601.7" y1="730.3" x2="610" y2="730.3" stroke="#000" stroke-width="1.6"/>
<text x="620" y="739.2" font-size="21.3" text-anchor="start" fill="#000">22.0</text>
<line x1="601.7" y1="591" x2="610" y2="591" stroke="#000" stroke-width="1.6"/>
<text x="620" y="599.9" font-size="21.3" text-anchor="start" fill="#000">33.0</text>
<text x="507.1" y="569.5" font-size="27.9">CO<tspan font-size="19.9" dy="8">2, aq</tspan><tspan dy="-8"> (mM)</tspan></text>
<line x1="861.12" y1="355" x2="861.12" y2="451.2" stroke="#8ac4f1" stroke-width="3.3" stroke-dasharray="12.5 4.5 3.5 4.5"/>
<text x="814.6" y="363" font-size="22" text-anchor="start" fill="#8ac4f1">0.02</text>
<line x1="877.54" y1="355" x2="877.54" y2="451.2" stroke="#86b9a2" stroke-width="3.3" stroke-dasharray="12.5 4.5 3.5 4.5"/>
<text x="882.4" y="357.8" font-size="22" text-anchor="start" fill="#86b9a2">0.04</text>
<line x1="939.1" y1="355" x2="939.1" y2="451.2" stroke="#fc8380" stroke-width="3.3" stroke-dasharray="12.5 4.5 3.5 4.5"/>
<text x="945.6" y="363" font-size="22" text-anchor="start" fill="#fc8380">0.12</text>
<line x1="1064.57" y1="355" x2="1064.57" y2="451.2" stroke="#a57fbe" stroke-width="3.3" stroke-dasharray="12.5 4.5 3.5 4.5"/>
<text x="1071.9" y="358.5" font-size="22" text-anchor="start" fill="#a57fbe">0.27</text>
<path d="M849.48,180.37 854.26,154.71 858.61,133.16 862.6,115.31 866.28,100.77 869.72,89.13 873,79.99 876.18,72.95 879.32,67.62 882.5,63.58 885.77,60.45 889.21,57.87 892.79,55.75 896.5,54.03 900.34,52.68 904.27,51.63 908.29,50.85 912.37,50.29 916.51,49.91 920.68,49.65 924.86,49.46 929.05,49.32 933.24,49.2 937.43,49.11 941.61,49.05 945.8,49 949.99,48.97 954.18,48.95 958.36,48.94 962.55,48.93 966.74,48.93 970.94,48.93 975.17,48.93 979.49,48.93 983.94,48.92 988.55,48.91 993.38,48.9 998.45,48.89 1003.82,48.86 1009.52,48.83 1015.6,48.8 1022.08,48.76 1028.89,48.71 1035.95,48.65 1043.18,48.6 1050.5,48.55 1057.81,48.5 1065.04,48.46 1072.11,48.43 1078.92,48.41 1085.4,48.4 1091.48,48.41 1097.18,48.43 1102.55,48.46 1107.62,48.49 1112.44,48.53 1117.06,48.57 1121.5,48.61 1125.82,48.64 1130.06,48.66 1134.26,48.67 1138.45,48.66 1142.66,48.64 1146.91,48.61 1151.23,48.58 1155.63,48.54 1160.14,48.51 1164.77,48.48 1169.55,48.46 1174.49,48.46 1179.63,48.47 1184.98,48.49 1190.65,48.53 1196.74,48.56 1203.36,48.58 1210.6,48.57 1218.57,48.53 1227.38,48.43 1237.14,48.28 1247.94,48.05 1259.89,47.74" fill="none" stroke="#f9a3d0" stroke-width="3.1" stroke-linejoin="round" stroke-linecap="round"/>
<polygon points="841.38,175.69 857.58,175.69 849.48,189.72" fill="#f9a3d0"/>
<polygon points="858.13,82.89 874.33,82.89 866.23,96.92" fill="#f9a3d0"/>
<polygon points="874.88,47.44 891.08,47.44 882.98,61.47" fill="#f9a3d0"/>
<polygon points="916.76,44.25 932.96,44.25 924.86,58.28" fill="#f9a3d0"/>
<polygon points="958.64,44.25 974.84,44.25 966.74,58.28" fill="#f9a3d0"/>
<polygon points="1000.52,44.25 1016.72,44.25 1008.62,58.28" fill="#f9a3d0"/>
<polygon points="1084.28,43.46 1100.48,43.46 1092.38,57.49" fill="#f9a3d0"/>
<polygon points="1126.16,44.25 1142.36,44.25 1134.26,58.28" fill="#f9a3d0"/>
<polygon points="1168.04,43.46 1184.24,43.46 1176.14,57.49" fill="#f9a3d0"/>
<polygon points="1209.91,44.25 1226.11,44.25 1218.01,58.28" fill="#f9a3d0"/>
<polygon points="1251.79,43.06 1267.99,43.06 1259.89,57.09" fill="#f9a3d0"/>
<path d="M857.85,438.45 865.27,403.23 872.43,371.01 879.36,341.6 886.04,314.8 892.49,290.4 898.71,268.19 904.71,247.99 910.48,229.58 916.03,212.76 921.37,197.33 926.51,183.1 931.45,170.01 936.23,158 940.86,147.01 945.36,136.99 949.77,127.89 954.08,119.65 958.34,112.22 962.55,105.55 966.74,99.58 970.93,94.26 975.12,89.53 979.3,85.34 983.49,81.63 987.68,78.34 991.87,75.42 996.06,72.8 1000.24,70.44 1004.43,68.28 1008.62,66.26 1012.81,64.33 1017,62.49 1021.18,60.75 1025.37,59.11 1029.56,57.58 1033.75,56.16 1037.93,54.87 1042.12,53.71 1046.31,52.67 1050.5,51.79 1054.69,51.04 1058.87,50.43 1063.06,49.94 1067.25,49.55 1071.44,49.26 1075.63,49.05 1079.81,48.91 1084,48.81 1088.19,48.76 1092.38,48.73 1096.57,48.72 1100.75,48.71 1104.94,48.72 1109.13,48.73 1113.32,48.75 1117.5,48.77 1121.69,48.79 1125.88,48.82 1130.07,48.84 1134.26,48.87 1138.45,48.88 1142.66,48.9 1146.91,48.91 1151.23,48.92 1155.63,48.92 1160.14,48.93 1164.77,48.93 1169.55,48.93 1174.49,48.93 1179.63,48.93 1184.98,48.93 1190.65,48.93 1196.74,48.91 1203.36,48.88 1210.6,48.83 1218.57,48.76 1227.38,48.66 1237.14,48.52 1247.94,48.35 1259.89,48.13" fill="none" stroke="#8ac4f1" stroke-width="3.1" stroke-linejoin="round" stroke-linecap="round"/>
<circle cx="857.85" cy="438.45" r="7.0" fill="#8ac4f1"/>
<circle cx="882.98" cy="315.78" r="7.0" fill="#8ac4f1"/>
<circle cx="924.86" cy="177.58" r="7.0" fill="#8ac4f1"/>
<circle cx="966.74" cy="88.76" r="7.0" fill="#8ac4f1"/>
<circle cx="1008.62" cy="64.86" r="7.0" fill="#8ac4f1"/>
<circle cx="1050.5" cy="49.33" r="7.0" fill="#8ac4f1"/>
<circle cx="1092.38" cy="48.53" r="7.0" fill="#8ac4f1"/>
<circle cx="1134.26" cy="48.93" r="7.0" fill="#8ac4f1"/>
<circle cx="1176.14" cy="48.93" r="7.0" fill="#8ac4f1"/>
<circle cx="1218.01" cy="48.93" r="7.0" fill="#8ac4f1"/>
<circle cx="1259.89" cy="48.13" r="7.0" fill="#8ac4f1"/>
<path d="M882.98,438.06 894.94,437.37 905.74,436.48 915.49,435.32 924.3,433.84 932.28,431.98 939.52,429.69 946.13,426.92 952.22,423.6 957.89,419.69 963.25,415.12 968.38,409.86 973.33,403.87 978.11,397.15 982.74,389.67 987.24,381.43 991.64,372.41 995.96,362.59 1000.22,351.95 1004.43,340.5 1008.62,328.2 1012.81,315.07 1017,301.27 1021.18,286.95 1025.37,272.31 1029.56,257.5 1033.75,242.71 1037.93,228.11 1042.12,213.88 1046.31,200.18 1050.5,187.2 1054.69,175.08 1058.87,163.8 1063.06,153.34 1067.25,143.66 1071.44,134.72 1075.63,126.49 1079.81,118.93 1084,112 1088.19,105.68 1092.38,99.91 1096.57,94.67 1100.75,89.93 1104.94,85.65 1109.13,81.8 1113.32,78.35 1117.5,75.26 1121.69,72.52 1125.88,70.08 1130.07,67.91 1134.26,65.99 1138.45,64.28 1142.66,62.78 1146.91,61.47 1151.23,60.34 1155.63,59.4 1160.14,58.62 1164.77,58.01 1169.55,57.55 1174.49,57.24 1179.63,57.06 1184.98,57 1190.65,56.97 1196.74,56.87 1203.36,56.59 1210.6,56.05 1218.57,55.13 1227.38,53.74 1237.14,51.78 1247.94,49.15 1259.89,45.75" fill="none" stroke="#fc8380" stroke-width="3.1" stroke-linejoin="round" stroke-linecap="round"/>
<polygon points="876.78,431.86 889.18,431.86 889.18,444.26 876.78,444.26" fill="#fc8380"/>
<polygon points="918.66,429.87 931.06,429.87 931.06,442.27 918.66,442.27" fill="#fc8380"/>
<polygon points="960.54,420.7 972.94,420.7 972.94,433.1 960.54,433.1" fill="#fc8380"/>
<polygon points="1002.42,336.27 1014.82,336.27 1014.82,348.67 1002.42,348.67" fill="#fc8380"/>
<polygon points="1044.3,166.2 1056.7,166.2 1056.7,178.6 1044.3,178.6" fill="#fc8380"/>
<polygon points="1086.18,84.95 1098.58,84.95 1098.58,97.35 1086.18,97.35" fill="#fc8380"/>
<polygon points="1128.06,56.27 1140.46,56.27 1140.46,68.67 1128.06,68.67" fill="#fc8380"/>
<polygon points="1169.94,48.71 1182.34,48.71 1182.34,61.11 1169.94,61.11" fill="#fc8380"/>
<polygon points="1211.81,52.29 1224.21,52.29 1224.21,64.69 1211.81,64.69" fill="#fc8380"/>
<polygon points="1253.69,39.55 1266.09,39.55 1266.09,51.95 1253.69,51.95" fill="#fc8380"/>
<path d="M866.23,437.26 871.37,434.94 876.72,431.57 882.23,427.19 887.85,421.83 893.54,415.52 899.25,408.3 904.93,400.19 910.54,391.23 916.04,381.45 921.37,370.88 926.51,359.56 931.45,347.59 936.23,335.05 940.86,322.03 945.36,308.65 949.77,294.98 954.08,281.13 958.34,267.2 962.55,253.27 966.74,239.44 970.93,225.82 975.12,212.46 979.3,199.44 983.49,186.83 987.68,174.7 991.87,163.12 996.06,152.17 1000.24,141.91 1004.43,132.41 1008.62,123.74 1012.81,115.96 1017,109.02 1021.18,102.86 1025.37,97.41 1029.56,92.63 1033.75,88.43 1037.93,84.77 1042.12,81.58 1046.31,78.79 1050.5,76.35 1054.69,74.19 1058.87,72.29 1063.06,70.61 1067.25,69.12 1071.44,67.79 1075.63,66.59 1079.81,65.49 1084,64.46 1088.19,63.46 1092.38,62.47 1096.57,61.47 1100.75,60.45 1104.94,59.43 1109.13,58.43 1113.32,57.45 1117.5,56.51 1121.69,55.62 1125.88,54.8 1130.07,54.04 1134.26,53.38 1138.45,52.81 1142.66,52.33 1146.91,51.92 1151.23,51.59 1155.63,51.3 1160.14,51.07 1164.77,50.86 1169.55,50.67 1174.49,50.5 1179.63,50.33 1184.98,50.14 1190.65,49.94 1196.74,49.74 1203.36,49.53 1210.6,49.3 1218.57,49.08 1227.38,48.85 1237.14,48.61 1247.94,48.37 1259.89,48.13" fill="none" stroke="#86b9a2" stroke-width="3.1" stroke-linejoin="round" stroke-linecap="round"/>
<polygon points="858.13,441.94 874.33,441.94 866.23,427.91" fill="#86b9a2"/>
<polygon points="874.88,435.96 891.08,435.96 882.98,421.93" fill="#86b9a2"/>
<polygon points="916.76,388.17 932.96,388.17 924.86,374.14" fill="#86b9a2"/>
<polygon points="958.64,240.8 974.84,240.8 966.74,226.77" fill="#86b9a2"/>
<polygon points="1000.52,113.35 1016.72,113.35 1008.62,99.32" fill="#86b9a2"/>
<polygon points="1042.4,76.31 1058.6,76.31 1050.5,62.28" fill="#86b9a2"/>
<polygon points="1084.28,67.55 1100.48,67.55 1092.38,53.52" fill="#86b9a2"/>
<polygon points="1126.16,56.4 1142.36,56.4 1134.26,42.37" fill="#86b9a2"/>
<polygon points="1168.04,55.2 1184.24,55.2 1176.14,41.17" fill="#86b9a2"/>
<polygon points="1209.91,53.61 1226.11,53.61 1218.01,39.58" fill="#86b9a2"/>
<polygon points="1251.79,52.81 1267.99,52.81 1259.89,38.78" fill="#86b9a2"/>
<path d="M882.98,438.06 894.94,437.53 905.74,437.12 915.49,436.83 924.3,436.62 932.28,436.48 939.52,436.39 946.13,436.34 952.22,436.3 957.89,436.26 963.25,436.2 968.38,436.1 973.33,435.97 978.11,435.8 982.74,435.62 987.24,435.41 991.64,435.19 995.96,434.96 1000.22,434.73 1004.43,434.5 1008.62,434.27 1012.81,434.06 1017,433.85 1021.18,433.66 1025.37,433.46 1029.56,433.27 1033.75,433.07 1037.93,432.87 1042.12,432.66 1046.31,432.45 1050.5,432.22 1054.69,431.96 1058.87,431.65 1063.06,431.22 1067.25,430.65 1071.44,429.88 1075.63,428.87 1079.81,427.58 1084,425.95 1088.19,423.95 1092.38,421.53 1096.57,418.65 1100.75,415.31 1104.94,411.52 1109.13,407.3 1113.32,402.64 1117.5,397.56 1121.69,392.07 1125.88,386.17 1130.07,379.88 1134.26,373.2 1138.45,366.13 1142.66,358.61 1146.91,350.57 1151.23,341.93 1155.63,332.63 1160.14,322.59 1164.77,311.74 1169.55,300.01 1174.49,287.33 1179.63,273.63 1184.98,258.88 1190.65,243.27 1196.74,227.02 1203.36,210.36 1210.6,193.52 1218.57,176.73 1227.38,160.22 1237.14,144.21 1247.94,128.95 1259.89,114.65" fill="none" stroke="#a57fbe" stroke-width="3.1" stroke-linejoin="round" stroke-linecap="round"/>
<polygon points="874.78,438.06 882.98,429.26 891.18,438.06 882.98,446.86" fill="#a57fbe"/>
<polygon points="916.66,436.07 924.86,427.27 933.06,436.07 924.86,444.87" fill="#a57fbe"/>
<polygon points="958.54,436.86 966.74,428.06 974.94,436.86 966.74,445.66" fill="#a57fbe"/>
<polygon points="1000.42,434.07 1008.62,425.27 1016.82,434.07 1008.62,442.87" fill="#a57fbe"/>
<polygon points="1042.3,432.48 1050.5,423.68 1058.7,432.48 1050.5,441.28" fill="#a57fbe"/>
<polygon points="1084.18,429.29 1092.38,420.49 1100.58,429.29 1092.38,438.09" fill="#a57fbe"/>
<polygon points="1126.06,379.51 1134.26,370.71 1142.46,379.51 1134.26,388.31" fill="#a57fbe"/>
<polygon points="1167.94,291.89 1176.14,283.09 1184.34,291.89 1176.14,300.69" fill="#a57fbe"/>
<polygon points="1209.81,160.45 1218.01,151.65 1226.21,160.45 1218.01,169.25" fill="#a57fbe"/>
<polygon points="1251.69,114.65 1259.89,105.85 1268.09,114.65 1259.89,123.45" fill="#a57fbe"/>
<path d="M882.98,439.25 894.94,439.25 905.74,439.25 915.49,439.25 924.3,439.25 932.28,439.25 939.52,439.25 946.13,439.25 952.22,439.25 957.89,439.25 963.25,439.25 968.38,439.25 973.33,439.25 978.11,439.25 982.74,439.25 987.24,439.24 991.64,439.24 995.96,439.23 1000.22,439.22 1004.43,439.2 1008.62,439.19 1012.81,439.16 1017,439.14 1021.18,439.11 1025.37,439.08 1029.56,439.05 1033.75,439.02 1037.93,438.99 1042.12,438.97 1046.31,438.94 1050.5,438.92 1054.69,438.9 1058.87,438.89 1063.06,438.88 1067.25,438.87 1071.44,438.86 1075.63,438.86 1079.81,438.85 1084,438.85 1088.19,438.85 1092.38,438.85 1096.57,438.85 1100.75,438.85 1104.94,438.85 1109.13,438.85 1113.32,438.84 1117.5,438.84 1121.69,438.83 1125.88,438.82 1130.07,438.8 1134.26,438.79 1138.45,438.76 1142.66,438.74 1146.91,438.71 1151.23,438.68 1155.63,438.65 1160.14,438.62 1164.77,438.6 1169.55,438.57 1174.49,438.54 1179.63,438.52 1184.98,438.5 1190.65,438.49 1196.74,438.47 1203.36,438.44 1210.6,438.41 1218.57,438.37 1227.38,438.32 1237.14,438.25 1247.94,438.16 1259.89,438.06" fill="none" stroke="#808080" stroke-width="3.1" stroke-linejoin="round" stroke-linecap="round"/>
<polygon points="882.98,431.15 890,435.2 890,443.3 882.98,447.35 875.97,443.3 875.97,435.2" fill="#808080"/>
<polygon points="924.86,431.15 931.88,435.2 931.88,443.3 924.86,447.35 917.85,443.3 917.85,435.2" fill="#808080"/>
<polygon points="966.74,431.15 973.76,435.2 973.76,443.3 966.74,447.35 959.73,443.3 959.73,435.2" fill="#808080"/>
<polygon points="1008.62,431.15 1015.63,435.2 1015.63,443.3 1008.62,447.35 1001.6,443.3 1001.6,435.2" fill="#808080"/>
<polygon points="1050.5,430.75 1057.51,434.8 1057.51,442.9 1050.5,446.95 1043.48,442.9 1043.48,434.8" fill="#808080"/>
<polygon points="1092.38,430.75 1099.39,434.8 1099.39,442.9 1092.38,446.95 1085.36,442.9 1085.36,434.8" fill="#808080"/>
<polygon points="1134.26,430.75 1141.27,434.8 1141.27,442.9 1134.26,446.95 1127.24,442.9 1127.24,434.8" fill="#808080"/>
<polygon points="1176.14,430.35 1183.15,434.4 1183.15,442.5 1176.14,446.55 1169.12,442.5 1169.12,434.4" fill="#808080"/>
<polygon points="1218.01,430.35 1225.03,434.4 1225.03,442.5 1218.01,446.55 1211,442.5 1211,434.4" fill="#808080"/>
<polygon points="1259.89,429.96 1266.91,434.01 1266.91,442.11 1259.89,446.16 1252.88,442.11 1252.88,434.01" fill="#808080"/>
<path d="M849.48,164.43V196.3M844.68,164.43h9.6M844.68,196.3h9.6M866.23,74.42V100.71M861.43,74.42h9.6M861.43,100.71h9.6M882.98,41.16V63.07M878.18,41.16h9.6M878.18,63.07h9.6M924.86,43.75V54.11M920.06,43.75h9.6M920.06,54.11h9.6M966.74,42.96V54.91M961.94,42.96h9.6M961.94,54.91h9.6M1008.62,42.16V55.7M1003.82,42.16h9.6M1003.82,55.7h9.6M1092.38,42.16V54.11M1087.58,42.16h9.6M1087.58,54.11h9.6M1134.26,42.96V54.91M1129.46,42.96h9.6M1129.46,54.91h9.6M1176.14,42.16V54.11M1171.34,42.16h9.6M1171.34,54.11h9.6M1218.01,41.76V56.1M1213.21,41.76h9.6M1213.21,56.1h9.6M1259.89,41.76V53.71M1255.09,41.76h9.6M1255.09,53.71h9.6" fill="none" stroke="#f9a3d0" stroke-width="1.6"/>
<path d="M882.98,304.63V326.93M878.18,304.63h9.6M878.18,326.93h9.6M924.86,167.22V187.93M920.06,167.22h9.6M920.06,187.93h9.6M966.74,80V97.52M961.94,80h9.6M961.94,97.52h9.6M1008.62,54.91V74.82M1003.82,54.91h9.6M1003.82,74.82h9.6M1050.5,46.14V52.52M1045.7,46.14h9.6M1045.7,52.52h9.6M1092.38,42.16V54.91M1087.58,42.16h9.6M1087.58,54.91h9.6M1134.26,39.77V58.09M1129.46,39.77h9.6M1129.46,58.09h9.6M1176.14,40.97V56.9M1171.34,40.97h9.6M1171.34,56.9h9.6M1218.01,38.58V59.29M1213.21,38.58h9.6M1213.21,59.29h9.6M1259.89,38.58V57.69M1255.09,38.58h9.6M1255.09,57.69h9.6" fill="none" stroke="#8ac4f1" stroke-width="1.6"/>
<path d="M882.98,436.07V440.05M878.18,436.07h9.6M878.18,440.05h9.6M924.86,432.88V439.25M920.06,432.88h9.6M920.06,439.25h9.6M966.74,422.92V430.89M961.94,422.92h9.6M961.94,430.89h9.6M1008.62,327.73V357.2M1003.82,327.73h9.6M1003.82,357.2h9.6M1050.5,156.47V188.33M1045.7,156.47h9.6M1045.7,188.33h9.6M1092.38,71.24V111.06M1087.58,71.24h9.6M1087.58,111.06h9.6M1134.26,52.12V72.83M1129.46,52.12h9.6M1129.46,72.83h9.6M1176.14,44.15V65.66M1171.34,44.15h9.6M1171.34,65.66h9.6M1218.01,49.73V67.25M1213.21,49.73h9.6M1213.21,67.25h9.6M1259.89,41.76V49.73M1255.09,41.76h9.6M1255.09,49.73h9.6" fill="none" stroke="#fc8380" stroke-width="1.6"/>
<path d="M882.98,426.51V436.07M878.18,426.51h9.6M878.18,436.07h9.6M924.86,369.95V397.03M920.06,369.95h9.6M920.06,397.03h9.6M966.74,222.98V249.27M961.94,222.98h9.6M961.94,249.27h9.6M1008.62,94.34V123.01M1003.82,94.34h9.6M1003.82,123.01h9.6M1050.5,61.68V81.59M1045.7,61.68h9.6M1045.7,81.59h9.6M1092.38,54.51V71.24M1087.58,54.51h9.6M1087.58,71.24h9.6M1134.26,45.75V57.69M1129.46,45.75h9.6M1129.46,57.69h9.6M1176.14,43.36V57.69M1171.34,43.36h9.6M1171.34,57.69h9.6M1218.01,40.17V57.69M1213.21,40.17h9.6M1213.21,57.69h9.6M1259.89,40.97V55.3M1255.09,40.97h9.6M1255.09,55.3h9.6" fill="none" stroke="#86b9a2" stroke-width="1.6"/>
<path d="M882.98,435.67V440.45M878.18,435.67h9.6M878.18,440.45h9.6M924.86,431.29V440.84M920.06,431.29h9.6M920.06,440.84h9.6M966.74,433.28V440.45M961.94,433.28h9.6M961.94,440.45h9.6M1008.62,430.89V437.26M1003.82,430.89h9.6M1003.82,437.26h9.6M1050.5,429.29V435.67M1045.7,429.29h9.6M1045.7,435.67h9.6M1092.38,423.32V435.27M1087.58,423.32h9.6M1087.58,435.27h9.6M1134.26,365.57V393.45M1129.46,365.57h9.6M1129.46,393.45h9.6M1176.14,279.14V304.63M1171.34,279.14h9.6M1171.34,304.63h9.6M1218.01,142.93V177.98M1213.21,142.93h9.6M1213.21,177.98h9.6M1259.89,107.08V122.22M1255.09,107.08h9.6M1255.09,122.22h9.6" fill="none" stroke="#a57fbe" stroke-width="1.6"/>
<line x1="1192.1" y1="254.5" x2="1244.8" y2="254.5" stroke="#f9a3d0" stroke-width="3.1" stroke-linecap="round"/>
<polygon points="1209.55,249.82 1225.75,249.82 1217.65,263.85" fill="#f9a3d0"/>
<text x="1251.7" y="262.9" font-size="23.6" text-anchor="start" fill="#000">pH 4</text>
<line x1="1192.1" y1="283.45" x2="1244.8" y2="283.45" stroke="#8ac4f1" stroke-width="3.1" stroke-linecap="round"/>
<circle cx="1217.65" cy="283.45" r="7.0" fill="#8ac4f1"/>
<text x="1251.7" y="291.85" font-size="23.6" text-anchor="start" fill="#000">pH 3</text>
<line x1="1192.1" y1="312.4" x2="1244.8" y2="312.4" stroke="#86b9a2" stroke-width="3.1" stroke-linecap="round"/>
<polygon points="1209.55,317.08 1225.75,317.08 1217.65,303.05" fill="#86b9a2"/>
<text x="1251.7" y="320.8" font-size="23.6" text-anchor="start" fill="#000">pH 2</text>
<line x1="1192.1" y1="341.35" x2="1244.8" y2="341.35" stroke="#fc8380" stroke-width="3.1" stroke-linecap="round"/>
<polygon points="1211.45,335.15 1223.85,335.15 1223.85,347.55 1211.45,347.55" fill="#fc8380"/>
<text x="1251.7" y="349.75" font-size="23.6" text-anchor="start" fill="#000">pH 1</text>
<line x1="1192.1" y1="370.3" x2="1244.8" y2="370.3" stroke="#a57fbe" stroke-width="3.1" stroke-linecap="round"/>
<polygon points="1209.45,370.3 1217.65,361.5 1225.85,370.3 1217.65,379.1" fill="#a57fbe"/>
<text x="1251.7" y="378.7" font-size="23.6" text-anchor="start" fill="#000">pH 0.5</text>
<line x1="1192.1" y1="399.25" x2="1244.8" y2="399.25" stroke="#808080" stroke-width="3.1" stroke-linecap="round"/>
<polygon points="1217.65,391.72 1224.66,395.48 1224.66,403.02 1217.65,406.78 1210.64,403.02 1210.64,395.48" fill="#808080"/>
<text x="1251.7" y="407.65" font-size="23.6" text-anchor="start" fill="#000">pH 0</text>
<rect x="807.6" y="33" width="519.3" height="418.2" fill="none" stroke="#000" stroke-width="2.1"/>
<line x1="798.9" y1="439.25" x2="807.6" y2="439.25" stroke="#000" stroke-width="2"/>
<text x="793.6" y="447.35" font-size="26" text-anchor="end" fill="#000">0</text>
<line x1="803.1" y1="399.42" x2="807.6" y2="399.42" stroke="#000" stroke-width="2"/>
<line x1="798.9" y1="359.59" x2="807.6" y2="359.59" stroke="#000" stroke-width="2"/>
<text x="793.6" y="367.69" font-size="26" text-anchor="end" fill="#000">20</text>
<line x1="803.1" y1="319.77" x2="807.6" y2="319.77" stroke="#000" stroke-width="2"/>
<line x1="798.9" y1="279.94" x2="807.6" y2="279.94" stroke="#000" stroke-width="2"/>
<text x="793.6" y="288.04" font-size="26" text-anchor="end" fill="#000">40</text>
<line x1="803.1" y1="240.11" x2="807.6" y2="240.11" stroke="#000" stroke-width="2"/>
<line x1="798.9" y1="200.28" x2="807.6" y2="200.28" stroke="#000" stroke-width="2"/>
<text x="793.6" y="208.38" font-size="26" text-anchor="end" fill="#000">60</text>
<line x1="803.1" y1="160.45" x2="807.6" y2="160.45" stroke="#000" stroke-width="2"/>
<line x1="798.9" y1="120.62" x2="807.6" y2="120.62" stroke="#000" stroke-width="2"/>
<text x="793.6" y="128.72" font-size="26" text-anchor="end" fill="#000">80</text>
<line x1="803.1" y1="80.79" x2="807.6" y2="80.79" stroke="#000" stroke-width="2"/>
<line x1="798.9" y1="40.97" x2="807.6" y2="40.97" stroke="#000" stroke-width="2"/>
<text x="793.6" y="49.07" font-size="26" text-anchor="end" fill="#000">100</text>
<line x1="841.1" y1="451.2" x2="841.1" y2="459.7" stroke="#000" stroke-width="2"/>
<text x="841.1" y="485.5" font-size="26" text-anchor="middle" fill="#000">0.0</text>
<line x1="882.98" y1="451.2" x2="882.98" y2="455.5" stroke="#000" stroke-width="2"/>
<line x1="924.86" y1="451.2" x2="924.86" y2="459.7" stroke="#000" stroke-width="2"/>
<text x="924.86" y="485.5" font-size="26" text-anchor="middle" fill="#000">0.1</text>
<line x1="966.74" y1="451.2" x2="966.74" y2="455.5" stroke="#000" stroke-width="2"/>
<line x1="1008.62" y1="451.2" x2="1008.62" y2="459.7" stroke="#000" stroke-width="2"/>
<text x="1008.62" y="485.5" font-size="26" text-anchor="middle" fill="#000">0.2</text>
<line x1="1050.5" y1="451.2" x2="1050.5" y2="455.5" stroke="#000" stroke-width="2"/>
<line x1="1092.38" y1="451.2" x2="1092.38" y2="459.7" stroke="#000" stroke-width="2"/>
<text x="1092.38" y="485.5" font-size="26" text-anchor="middle" fill="#000">0.3</text>
<line x1="1134.26" y1="451.2" x2="1134.26" y2="455.5" stroke="#000" stroke-width="2"/>
<line x1="1176.14" y1="451.2" x2="1176.14" y2="459.7" stroke="#000" stroke-width="2"/>
<text x="1176.14" y="485.5" font-size="26" text-anchor="middle" fill="#000">0.4</text>
<line x1="1218.01" y1="451.2" x2="1218.01" y2="455.5" stroke="#000" stroke-width="2"/>
<line x1="1259.89" y1="451.2" x2="1259.89" y2="459.7" stroke="#000" stroke-width="2"/>
<text x="1259.89" y="485.5" font-size="26" text-anchor="middle" fill="#000">0.5</text>
<line x1="1301.77" y1="451.2" x2="1301.77" y2="455.5" stroke="#000" stroke-width="2"/>
<text x="1067.75" y="526.3" font-size="28.1" text-anchor="middle" fill="#000"><tspan font-style="italic">j</tspan> (A/cm<tspan font-size="17.5" dy="-10.5">2</tspan><tspan dy="10.5">)</tspan></text>
<text x="740" y="242.1" font-size="28" text-anchor="middle" fill="#000" transform="rotate(-90 740 242.1)">CO FE (%)</text>
<text x="699" y="44" font-size="51" text-anchor="start" fill="#000">c</text>
<path d="M882.98,608.05 894.94,607.46 905.74,607.1 915.49,607.05 924.3,607.38 932.28,608.14 939.52,609.41 946.13,611.25 952.22,613.73 957.89,616.91 963.25,620.87 968.38,625.65 973.33,631.27 978.11,637.72 982.74,644.99 987.24,653.1 991.64,662.03 995.96,671.78 1000.22,682.35 1004.43,693.73 1008.62,705.93 1012.81,718.9 1017,732.51 1021.18,746.59 1025.37,760.96 1029.56,775.45 1033.75,789.88 1037.93,804.09 1042.12,817.9 1046.31,831.14 1050.5,843.63 1054.69,855.24 1058.87,865.98 1063.06,875.88 1067.25,884.99 1071.44,893.35 1075.63,901 1079.81,907.98 1084,914.34 1088.19,920.11 1092.38,925.33 1096.57,930.05 1100.75,934.31 1104.94,938.15 1109.13,941.61 1113.32,944.72 1117.5,947.53 1121.69,950.07 1125.88,952.4 1130.07,954.53 1134.26,956.53 1138.45,958.41 1142.66,960.17 1146.91,961.79 1151.23,963.24 1155.63,964.52 1160.14,965.59 1164.77,966.44 1169.55,967.06 1174.49,967.42 1179.63,967.49 1184.98,967.31 1190.65,967.01 1196.74,966.77 1203.36,966.77 1210.6,967.2 1218.57,968.24 1227.38,970.06 1237.14,972.84 1247.94,976.78 1259.89,982.04" fill="none" stroke="#fc8380" stroke-width="3.1" stroke-linejoin="round" stroke-linecap="round"/>
<polygon points="876.78,601.85 889.18,601.85 889.18,614.25 876.78,614.25" fill="#fc8380"/>
<polygon points="918.66,599.55 931.06,599.55 931.06,611.95 918.66,611.95" fill="#fc8380"/>
<polygon points="960.54,600.7 972.94,600.7 972.94,613.1 960.54,613.1" fill="#fc8380"/>
<polygon points="1002.42,686.24 1014.82,686.24 1014.82,698.64 1002.42,698.64" fill="#fc8380"/>
<polygon points="1044.3,852.71 1056.7,852.71 1056.7,865.11 1044.3,865.11" fill="#fc8380"/>
<polygon points="1086.18,927.51 1098.58,927.51 1098.58,939.91 1086.18,939.91" fill="#fc8380"/>
<polygon points="1128.06,952.06 1140.46,952.06 1140.46,964.46 1128.06,964.46" fill="#fc8380"/>
<polygon points="1169.94,966.25 1182.34,966.25 1182.34,978.65 1169.94,978.65" fill="#fc8380"/>
<polygon points="1211.81,955.89 1224.21,955.89 1224.21,968.29 1211.81,968.29" fill="#fc8380"/>
<polygon points="1253.69,975.84 1266.09,975.84 1266.09,988.24 1253.69,988.24" fill="#fc8380"/>
<path d="M866.23,601.53 871.37,602.99 876.72,605.71 882.23,609.64 887.85,614.72 893.54,620.89 899.25,628.09 904.93,636.27 910.54,645.36 916.04,655.31 921.37,666.07 926.51,677.55 931.45,689.68 936.23,702.33 940.86,715.42 945.36,728.82 949.77,742.45 954.08,756.19 958.34,769.93 962.55,783.58 966.74,797.03 970.93,810.17 975.12,822.95 979.3,835.31 983.49,847.19 987.68,858.53 991.87,869.26 996.06,879.35 1000.24,888.71 1004.43,897.3 1008.62,905.07 1012.81,911.96 1017,918.04 1021.18,923.38 1025.37,928.06 1029.56,932.16 1033.75,935.74 1037.93,938.89 1042.12,941.68 1046.31,944.19 1050.5,946.49 1054.69,948.65 1058.87,950.69 1063.06,952.6 1067.25,954.39 1071.44,956.07 1075.63,957.63 1079.81,959.09 1084,960.44 1088.19,961.7 1092.38,962.86 1096.57,963.93 1100.75,964.9 1104.94,965.8 1109.13,966.61 1113.32,967.35 1117.5,968.01 1121.69,968.61 1125.88,969.14 1130.07,969.61 1134.26,970.02 1138.45,970.38 1142.66,970.69 1146.91,970.96 1151.23,971.21 1155.63,971.44 1160.14,971.65 1164.77,971.86 1169.55,972.07 1174.49,972.3 1179.63,972.54 1184.98,972.82 1190.65,973.1 1196.74,973.39 1203.36,973.67 1210.6,973.92 1218.57,974.14 1227.38,974.3 1237.14,974.41 1247.94,974.43 1259.89,974.37" fill="none" stroke="#86b9a2" stroke-width="3.1" stroke-linejoin="round" stroke-linecap="round"/>
<polygon points="858.13,606.2 874.33,606.2 866.23,592.18" fill="#86b9a2"/>
<polygon points="874.88,608.89 891.08,608.89 882.98,594.86" fill="#86b9a2"/>
<polygon points="916.76,658.37 932.96,658.37 924.86,644.34" fill="#86b9a2"/>
<polygon points="958.64,806.82 974.84,806.82 966.74,792.79" fill="#86b9a2"/>
<polygon points="1000.52,924.57 1016.72,924.57 1008.62,910.54" fill="#86b9a2"/>
<polygon points="1042.4,953.34 1058.6,953.34 1050.5,939.31" fill="#86b9a2"/>
<polygon points="1084.28,969.07 1100.48,969.07 1092.38,955.04" fill="#86b9a2"/>
<polygon points="1126.16,975.59 1142.36,975.59 1134.26,961.56" fill="#86b9a2"/>
<polygon points="1168.04,976.74 1184.24,976.74 1176.14,962.71" fill="#86b9a2"/>
<polygon points="1209.91,979.43 1226.11,979.43 1218.01,965.4" fill="#86b9a2"/>
<polygon points="1251.79,979.04 1267.99,979.04 1259.89,965.01" fill="#86b9a2"/>
<path d="M857.85,609.58 865.27,642.94 872.43,673.19 879.36,700.57 886.04,725.32 892.49,747.68 898.71,767.87 904.71,786.14 910.48,802.72 916.03,817.84 921.37,831.74 926.51,844.62 931.45,856.55 936.23,867.58 940.86,877.74 945.36,887.07 949.77,895.61 954.08,903.4 958.34,910.47 962.55,916.88 966.74,922.65 970.93,927.82 975.12,932.46 979.3,936.59 983.49,940.28 987.68,943.57 991.87,946.51 996.06,949.15 1000.24,951.54 1004.43,953.73 1008.62,955.76 1012.81,957.69 1017,959.5 1021.18,961.2 1025.37,962.77 1029.56,964.23 1033.75,965.54 1037.93,966.72 1042.12,967.76 1046.31,968.65 1050.5,969.38 1054.69,969.95 1058.87,970.39 1063.06,970.72 1067.25,970.95 1071.44,971.11 1075.63,971.23 1079.81,971.33 1084,971.44 1088.19,971.57 1092.38,971.74 1096.57,971.99 1100.75,972.29 1104.94,972.64 1109.13,973.01 1113.32,973.4 1117.5,973.78 1121.69,974.15 1125.88,974.49 1130.07,974.78 1134.26,975.01 1138.45,975.16 1142.66,975.24 1146.91,975.26 1151.23,975.22 1155.63,975.13 1160.14,975 1164.77,974.82 1169.55,974.61 1174.49,974.37 1179.63,974.11 1184.98,973.84 1190.65,973.56 1196.74,973.3 1203.36,973.08 1210.6,972.9 1218.57,972.78 1227.38,972.73 1237.14,972.78 1247.94,972.94 1259.89,973.22" fill="none" stroke="#8ac4f1" stroke-width="3.1" stroke-linejoin="round" stroke-linecap="round"/>
<circle cx="857.85" cy="609.58" r="7.0" fill="#8ac4f1"/>
<circle cx="882.98" cy="726.19" r="7.0" fill="#8ac4f1"/>
<circle cx="924.86" cy="848.17" r="7.0" fill="#8ac4f1"/>
<circle cx="966.74" cy="932.56" r="7.0" fill="#8ac4f1"/>
<circle cx="1008.62" cy="957.49" r="7.0" fill="#8ac4f1"/>
<circle cx="1050.5" cy="972.06" r="7.0" fill="#8ac4f1"/>
<circle cx="1092.38" cy="970.53" r="7.0" fill="#8ac4f1"/>
<circle cx="1134.26" cy="976.28" r="7.0" fill="#8ac4f1"/>
<circle cx="1176.14" cy="974.37" r="7.0" fill="#8ac4f1"/>
<circle cx="1218.01" cy="972.06" r="7.0" fill="#8ac4f1"/>
<circle cx="1259.89" cy="973.22" r="7.0" fill="#8ac4f1"/>
<path d="M849.48,855.84 854.26,880.68 858.61,901.39 862.6,918.4 866.28,932.12 869.72,942.96 873,951.36 876.18,957.73 879.32,962.49 882.5,966.05 885.77,968.84 889.21,971.2 892.79,973.24 896.5,974.98 900.34,976.44 904.27,977.65 908.29,978.64 912.37,979.43 916.51,980.05 920.68,980.53 924.86,980.89 929.05,981.15 933.24,981.33 937.43,981.44 941.61,981.5 945.8,981.5 949.99,981.47 954.18,981.42 958.36,981.35 962.55,981.27 966.74,981.21 970.94,981.16 975.17,981.13 979.49,981.11 983.94,981.11 988.55,981.12 993.38,981.14 998.45,981.16 1003.82,981.2 1009.52,981.23 1015.6,981.27 1022.08,981.31 1028.89,981.35 1035.95,981.38 1043.18,981.42 1050.5,981.45 1057.81,981.49 1065.04,981.52 1072.11,981.54 1078.92,981.57 1085.4,981.59 1091.48,981.61 1097.18,981.62 1102.55,981.63 1107.62,981.64 1112.44,981.65 1117.06,981.65 1121.5,981.65 1125.82,981.65 1130.06,981.65 1134.26,981.65 1138.45,981.65 1142.66,981.65 1146.91,981.65 1151.23,981.64 1155.63,981.63 1160.14,981.61 1164.77,981.59 1169.55,981.56 1174.49,981.51 1179.63,981.46 1184.98,981.4 1190.65,981.35 1196.74,981.32 1203.36,981.32 1210.6,981.39 1218.57,981.53 1227.38,981.76 1237.14,982.11 1247.94,982.58 1259.89,983.19" fill="none" stroke="#f9a3d0" stroke-width="3.1" stroke-linejoin="round" stroke-linecap="round"/>
<polygon points="841.38,851.16 857.58,851.16 849.48,865.19" fill="#f9a3d0"/>
<polygon points="858.13,941.3 874.33,941.3 866.23,955.33" fill="#f9a3d0"/>
<polygon points="874.88,970.07 891.08,970.07 882.98,984.1" fill="#f9a3d0"/>
<polygon points="916.76,977.74 932.96,977.74 924.86,991.77" fill="#f9a3d0"/>
<polygon points="958.64,976.21 974.84,976.21 966.74,990.24" fill="#f9a3d0"/>
<polygon points="1000.52,976.59 1016.72,976.59 1008.62,990.62" fill="#f9a3d0"/>
<polygon points="1084.28,976.98 1100.48,976.98 1092.38,991.01" fill="#f9a3d0"/>
<polygon points="1126.16,976.98 1142.36,976.98 1134.26,991.01" fill="#f9a3d0"/>
<polygon points="1168.04,976.98 1184.24,976.98 1176.14,991.01" fill="#f9a3d0"/>
<polygon points="1209.91,976.21 1226.11,976.21 1218.01,990.24" fill="#f9a3d0"/>
<polygon points="1251.79,978.51 1267.99,978.51 1259.89,992.54" fill="#f9a3d0"/>
<path d="M882.98,609.97 894.94,608.28 905.74,607.07 915.49,606.28 924.3,605.84 932.28,605.68 939.52,605.74 946.13,605.95 952.22,606.23 957.89,606.53 963.25,606.77 968.38,606.9 973.33,606.94 978.11,606.9 982.74,606.8 987.24,606.67 991.64,606.53 995.96,606.4 1000.22,606.31 1004.43,606.28 1008.62,606.32 1012.81,606.47 1017,606.69 1021.18,606.98 1025.37,607.31 1029.56,607.66 1033.75,608 1037.93,608.33 1042.12,608.6 1046.31,608.82 1050.5,608.94 1054.69,608.98 1058.87,608.97 1063.06,609 1067.25,609.12 1071.44,609.41 1075.63,609.93 1079.81,610.75 1084,611.95 1088.19,613.58 1092.38,615.72 1096.57,618.42 1100.75,621.66 1104.94,625.4 1109.13,629.6 1113.32,634.24 1117.5,639.26 1121.69,644.65 1125.88,650.36 1130.07,656.34 1134.26,662.58 1138.45,669.05 1142.66,675.86 1146.91,683.1 1151.23,690.92 1155.63,699.41 1160.14,708.71 1164.77,718.92 1169.55,730.17 1174.49,742.57 1179.63,756.24 1184.98,771.22 1190.65,787.28 1196.74,804.07 1203.36,821.28 1210.6,838.6 1218.57,855.68 1227.38,872.21 1237.14,887.88 1247.94,902.35 1259.89,915.29" fill="none" stroke="#a57fbe" stroke-width="3.1" stroke-linejoin="round" stroke-linecap="round"/>
<polygon points="874.78,609.97 882.98,601.17 891.18,609.97 882.98,618.77" fill="#a57fbe"/>
<polygon points="916.66,603.45 924.86,594.65 933.06,603.45 924.86,612.25" fill="#a57fbe"/>
<polygon points="958.54,608.82 966.74,600.02 974.94,608.82 966.74,617.62" fill="#a57fbe"/>
<polygon points="1000.42,604.6 1008.62,595.8 1016.82,604.6 1008.62,613.4" fill="#a57fbe"/>
<polygon points="1042.3,610.73 1050.5,601.93 1058.7,610.73 1050.5,619.53" fill="#a57fbe"/>
<polygon points="1084.18,606.13 1092.38,597.33 1100.58,606.13 1092.38,614.93" fill="#a57fbe"/>
<polygon points="1126.06,659.06 1134.26,650.26 1142.46,659.06 1134.26,667.86" fill="#a57fbe"/>
<polygon points="1167.94,733.1 1176.14,724.3 1184.34,733.1 1176.14,741.9" fill="#a57fbe"/>
<polygon points="1209.81,875.02 1218.01,866.22 1226.21,875.02 1218.01,883.82" fill="#a57fbe"/>
<polygon points="1251.69,915.29 1259.89,906.49 1268.09,915.29 1259.89,924.09" fill="#a57fbe"/>
<path d="M882.98,602.68 894.94,603.33 905.74,603.9 915.49,604.4 924.3,604.82 932.28,605.17 939.52,605.45 946.13,605.66 952.22,605.8 957.89,605.89 963.25,605.91 968.38,605.87 973.33,605.78 978.11,605.64 982.74,605.46 987.24,605.26 991.64,605.02 995.96,604.77 1000.22,604.5 1004.43,604.23 1008.62,603.96 1012.81,603.69 1017,603.44 1021.18,603.21 1025.37,602.99 1029.56,602.8 1033.75,602.64 1037.93,602.51 1042.12,602.41 1046.31,602.36 1050.5,602.36 1054.69,602.4 1058.87,602.48 1063.06,602.59 1067.25,602.72 1071.44,602.85 1075.63,602.97 1079.81,603.08 1084,603.16 1088.19,603.2 1092.38,603.19 1096.57,603.12 1100.75,603.01 1104.94,602.86 1109.13,602.7 1113.32,602.54 1117.5,602.38 1121.69,602.25 1125.88,602.16 1130.07,602.13 1134.26,602.17 1138.45,602.28 1142.66,602.46 1146.91,602.68 1151.23,602.93 1155.63,603.17 1160.14,603.39 1164.77,603.58 1169.55,603.7 1174.49,603.74 1179.63,603.67 1184.98,603.49 1190.65,603.23 1196.74,602.94 1203.36,602.66 1210.6,602.44 1218.57,602.33 1227.38,602.36 1237.14,602.59 1247.94,603.07 1259.89,603.83" fill="none" stroke="#808080" stroke-width="3.1" stroke-linejoin="round" stroke-linecap="round"/>
<polygon points="882.98,594.58 890,598.63 890,606.73 882.98,610.78 875.97,606.73 875.97,598.63" fill="#808080"/>
<polygon points="924.86,596.88 931.88,600.93 931.88,609.03 924.86,613.08 917.85,609.03 917.85,600.93" fill="#808080"/>
<polygon points="966.74,598.8 973.76,602.85 973.76,610.95 966.74,615 959.73,610.95 959.73,602.85" fill="#808080"/>
<polygon points="1008.62,595.73 1015.63,599.78 1015.63,607.88 1008.62,611.93 1001.6,607.88 1001.6,599.78" fill="#808080"/>
<polygon points="1050.5,593.43 1057.51,597.48 1057.51,605.58 1050.5,609.63 1043.48,605.58 1043.48,597.48" fill="#808080"/>
<polygon points="1092.38,596.11 1099.39,600.16 1099.39,608.26 1092.38,612.31 1085.36,608.26 1085.36,600.16" fill="#808080"/>
<polygon points="1134.26,592.66 1141.27,596.71 1141.27,604.81 1134.26,608.86 1127.24,604.81 1127.24,596.71" fill="#808080"/>
<polygon points="1176.14,597.65 1183.15,601.7 1183.15,609.8 1176.14,613.85 1169.12,609.8 1169.12,601.7" fill="#808080"/>
<polygon points="1218.01,592.66 1225.03,596.71 1225.03,604.81 1218.01,608.86 1211,604.81 1211,596.71" fill="#808080"/>
<polygon points="1259.89,595.73 1266.91,599.78 1266.91,607.88 1259.89,611.93 1252.88,607.88 1252.88,599.78" fill="#808080"/>
<path d="M882.98,603.45V612.65M878.18,603.45h9.6M878.18,612.65h9.6M924.86,602.68V608.82M920.06,602.68h9.6M920.06,608.82h9.6M966.74,597.31V616.49M961.94,597.31h9.6M961.94,616.49h9.6M1008.62,678.63V706.24M1003.82,678.63h9.6M1003.82,706.24h9.6M1050.5,837.81V880.01M1045.7,837.81h9.6M1045.7,880.01h9.6M1092.38,922.97V944.45M1087.58,922.97h9.6M1087.58,944.45h9.6M1134.26,947.9V968.61M1129.46,947.9h9.6M1129.46,968.61h9.6M1176.14,962.48V982.42M1171.34,962.48h9.6M1171.34,982.42h9.6M1218.01,951.35V972.83M1213.21,951.35h9.6M1213.21,972.83h9.6M1259.89,976.28V987.79M1255.09,976.28h9.6M1255.09,987.79h9.6" fill="none" stroke="#fc8380" stroke-width="1.6"/>
<path d="M882.98,595.77V612.65M878.18,595.77h9.6M878.18,612.65h9.6M924.86,639.89V667.5M920.06,639.89h9.6M920.06,667.5h9.6M966.74,789.48V814.8M961.94,789.48h9.6M961.94,814.8h9.6M1008.62,906.09V933.71M1003.82,906.09h9.6M1003.82,933.71h9.6M1050.5,940.99V956.34M1045.7,940.99h9.6M1045.7,956.34h9.6M1092.38,954.8V973.98M1087.58,954.8h9.6M1087.58,973.98h9.6M1134.26,963.24V978.59M1129.46,963.24h9.6M1129.46,978.59h9.6M1176.14,964.39V979.74M1171.34,964.39h9.6M1171.34,979.74h9.6M1218.01,961.32V988.17M1213.21,961.32h9.6M1213.21,988.17h9.6M1259.89,964.78V983.96M1255.09,964.78h9.6M1255.09,983.96h9.6" fill="none" stroke="#86b9a2" stroke-width="1.6"/>
<path d="M882.98,716.99V735.4M878.18,716.99h9.6M878.18,735.4h9.6M924.86,834.36V861.98M920.06,834.36h9.6M920.06,861.98h9.6M966.74,919.9V945.21M961.94,919.9h9.6M961.94,945.21h9.6M1008.62,947.13V967.85M1003.82,947.13h9.6M1003.82,967.85h9.6M1050.5,969V975.13M1045.7,969h9.6M1045.7,975.13h9.6M1092.38,959.02V982.04M1087.58,959.02h9.6M1087.58,982.04h9.6M1134.26,965.54V987.02M1129.46,965.54h9.6M1129.46,987.02h9.6M1176.14,964.78V983.96M1171.34,964.78h9.6M1171.34,983.96h9.6M1218.01,959.79V984.34M1213.21,959.79h9.6M1213.21,984.34h9.6M1259.89,963.63V982.8M1255.09,963.63h9.6M1255.09,982.8h9.6" fill="none" stroke="#8ac4f1" stroke-width="1.6"/>
<path d="M849.48,840.5V871.18M844.68,840.5h9.6M844.68,871.18h9.6M866.23,937.16V954.8M861.43,937.16h9.6M861.43,954.8h9.6M882.98,964.78V984.72M878.18,964.78h9.6M878.18,984.72h9.6M924.86,976.28V988.56M920.06,976.28h9.6M920.06,988.56h9.6M966.74,975.13V986.64M961.94,975.13h9.6M961.94,986.64h9.6M1008.62,974.37V988.17M1003.82,974.37h9.6M1003.82,988.17h9.6M1092.38,973.98V989.33M1087.58,973.98h9.6M1087.58,989.33h9.6M1134.26,975.9V987.41M1129.46,975.9h9.6M1129.46,987.41h9.6M1176.14,973.98V989.33M1171.34,973.98h9.6M1171.34,989.33h9.6M1218.01,973.98V987.79M1213.21,973.98h9.6M1213.21,987.79h9.6M1259.89,977.43V988.94M1255.09,977.43h9.6M1255.09,988.94h9.6" fill="none" stroke="#f9a3d0" stroke-width="1.6"/>
<path d="M882.98,606.13V613.8M878.18,606.13h9.6M878.18,613.8h9.6M924.86,598.84V608.05M920.06,598.84h9.6M920.06,608.05h9.6M966.74,599.23V618.41M961.94,599.23h9.6M961.94,618.41h9.6M1008.62,595.39V613.8M1003.82,595.39h9.6M1003.82,613.8h9.6M1050.5,604.6V616.87M1045.7,604.6h9.6M1045.7,616.87h9.6M1092.38,597.69V614.57M1087.58,597.69h9.6M1087.58,614.57h9.6M1134.26,646.79V671.34M1129.46,646.79h9.6M1129.46,671.34h9.6M1176.14,719.67V746.52M1171.34,719.67h9.6M1171.34,746.52h9.6M1218.01,857.76V892.28M1213.21,857.76h9.6M1213.21,892.28h9.6M1259.89,908.77V921.82M1255.09,908.77h9.6M1255.09,921.82h9.6" fill="none" stroke="#a57fbe" stroke-width="1.6"/>
<path d="M882.98,595.01V610.35M878.18,595.01h9.6M878.18,610.35h9.6M924.86,601.14V608.82M920.06,601.14h9.6M920.06,608.82h9.6M966.74,601.14V612.65M961.94,601.14h9.6M961.94,612.65h9.6M1008.62,598.08V609.58M1003.82,598.08h9.6M1003.82,609.58h9.6M1050.5,596.93V606.13M1045.7,596.93h9.6M1045.7,606.13h9.6M1092.38,598.46V609.97M1087.58,598.46h9.6M1087.58,609.97h9.6M1134.26,595.77V605.75M1129.46,595.77h9.6M1129.46,605.75h9.6M1176.14,601.91V609.58M1171.34,601.91h9.6M1171.34,609.58h9.6M1218.01,593.09V608.43M1213.21,593.09h9.6M1213.21,608.43h9.6M1259.89,599.23V608.43M1255.09,599.23h9.6M1255.09,608.43h9.6" fill="none" stroke="#808080" stroke-width="1.6"/>
<line x1="1194.5" y1="631.65" x2="1247.6" y2="631.65" stroke="#f9a3d0" stroke-width="3.1" stroke-linecap="round"/>
<polygon points="1212.15,626.97 1228.35,626.97 1220.25,641" fill="#f9a3d0"/>
<text x="1253.7" y="640.05" font-size="23.6" text-anchor="start" fill="#000">pH 4</text>
<line x1="1194.5" y1="660.65" x2="1247.6" y2="660.65" stroke="#8ac4f1" stroke-width="3.1" stroke-linecap="round"/>
<circle cx="1220.25" cy="660.65" r="7.0" fill="#8ac4f1"/>
<text x="1253.7" y="669.05" font-size="23.6" text-anchor="start" fill="#000">pH 3</text>
<line x1="1194.5" y1="689.65" x2="1247.6" y2="689.65" stroke="#86b9a2" stroke-width="3.1" stroke-linecap="round"/>
<polygon points="1212.15,694.33 1228.35,694.33 1220.25,680.3" fill="#86b9a2"/>
<text x="1253.7" y="698.05" font-size="23.6" text-anchor="start" fill="#000">pH 2</text>
<line x1="1194.5" y1="718.65" x2="1247.6" y2="718.65" stroke="#fc8380" stroke-width="3.1" stroke-linecap="round"/>
<polygon points="1214.05,712.45 1226.45,712.45 1226.45,724.85 1214.05,724.85" fill="#fc8380"/>
<text x="1253.7" y="727.05" font-size="23.6" text-anchor="start" fill="#000">pH 1</text>
<line x1="1194.5" y1="747.65" x2="1247.6" y2="747.65" stroke="#a57fbe" stroke-width="3.1" stroke-linecap="round"/>
<polygon points="1212.05,747.65 1220.25,738.85 1228.45,747.65 1220.25,756.45" fill="#a57fbe"/>
<text x="1253.7" y="756.05" font-size="23.6" text-anchor="start" fill="#000">pH 0.5</text>
<line x1="1194.5" y1="776.65" x2="1247.6" y2="776.65" stroke="#808080" stroke-width="3.1" stroke-linecap="round"/>
<polygon points="1220.25,769.12 1227.26,772.88 1227.26,780.42 1220.25,784.18 1213.24,780.42 1213.24,772.88" fill="#808080"/>
<text x="1253.7" y="785.05" font-size="23.6" text-anchor="start" fill="#000">pH 0</text>
<rect x="807.6" y="583.5" width="519.3" height="418.1" fill="none" stroke="#000" stroke-width="2.1"/>
<line x1="798.9" y1="986.26" x2="807.6" y2="986.26" stroke="#000" stroke-width="2"/>
<text x="793.6" y="994.36" font-size="26" text-anchor="end" fill="#000">0</text>
<line x1="803.1" y1="947.9" x2="807.6" y2="947.9" stroke="#000" stroke-width="2"/>
<line x1="798.9" y1="909.54" x2="807.6" y2="909.54" stroke="#000" stroke-width="2"/>
<text x="793.6" y="917.64" font-size="26" text-anchor="end" fill="#000">20</text>
<line x1="803.1" y1="871.18" x2="807.6" y2="871.18" stroke="#000" stroke-width="2"/>
<line x1="798.9" y1="832.83" x2="807.6" y2="832.83" stroke="#000" stroke-width="2"/>
<text x="793.6" y="840.93" font-size="26" text-anchor="end" fill="#000">40</text>
<line x1="803.1" y1="794.47" x2="807.6" y2="794.47" stroke="#000" stroke-width="2"/>
<line x1="798.9" y1="756.11" x2="807.6" y2="756.11" stroke="#000" stroke-width="2"/>
<text x="793.6" y="764.21" font-size="26" text-anchor="end" fill="#000">60</text>
<line x1="803.1" y1="717.75" x2="807.6" y2="717.75" stroke="#000" stroke-width="2"/>
<line x1="798.9" y1="679.39" x2="807.6" y2="679.39" stroke="#000" stroke-width="2"/>
<text x="793.6" y="687.49" font-size="26" text-anchor="end" fill="#000">80</text>
<line x1="803.1" y1="641.04" x2="807.6" y2="641.04" stroke="#000" stroke-width="2"/>
<line x1="798.9" y1="602.68" x2="807.6" y2="602.68" stroke="#000" stroke-width="2"/>
<text x="793.6" y="610.78" font-size="26" text-anchor="end" fill="#000">100</text>
<line x1="841.1" y1="1001.6" x2="841.1" y2="1010.1" stroke="#000" stroke-width="2"/>
<text x="841.1" y="1035.9" font-size="26" text-anchor="middle" fill="#000">0.0</text>
<line x1="882.98" y1="1001.6" x2="882.98" y2="1005.9" stroke="#000" stroke-width="2"/>
<line x1="924.86" y1="1001.6" x2="924.86" y2="1010.1" stroke="#000" stroke-width="2"/>
<text x="924.86" y="1035.9" font-size="26" text-anchor="middle" fill="#000">0.1</text>
<line x1="966.74" y1="1001.6" x2="966.74" y2="1005.9" stroke="#000" stroke-width="2"/>
<line x1="1008.62" y1="1001.6" x2="1008.62" y2="1010.1" stroke="#000" stroke-width="2"/>
<text x="1008.62" y="1035.9" font-size="26" text-anchor="middle" fill="#000">0.2</text>
<line x1="1050.5" y1="1001.6" x2="1050.5" y2="1005.9" stroke="#000" stroke-width="2"/>
<line x1="1092.38" y1="1001.6" x2="1092.38" y2="1010.1" stroke="#000" stroke-width="2"/>
<text x="1092.38" y="1035.9" font-size="26" text-anchor="middle" fill="#000">0.3</text>
<line x1="1134.26" y1="1001.6" x2="1134.26" y2="1005.9" stroke="#000" stroke-width="2"/>
<line x1="1176.14" y1="1001.6" x2="1176.14" y2="1010.1" stroke="#000" stroke-width="2"/>
<text x="1176.14" y="1035.9" font-size="26" text-anchor="middle" fill="#000">0.4</text>
<line x1="1218.01" y1="1001.6" x2="1218.01" y2="1005.9" stroke="#000" stroke-width="2"/>
<line x1="1259.89" y1="1001.6" x2="1259.89" y2="1010.1" stroke="#000" stroke-width="2"/>
<text x="1259.89" y="1035.9" font-size="26" text-anchor="middle" fill="#000">0.5</text>
<line x1="1301.77" y1="1001.6" x2="1301.77" y2="1005.9" stroke="#000" stroke-width="2"/>
<text x="1067.75" y="1076.7" font-size="28.1" text-anchor="middle" fill="#000"><tspan font-style="italic">j</tspan> (A/cm<tspan font-size="17.5" dy="-10.5">2</tspan><tspan dy="10.5">)</tspan></text>
<text x="735" y="792.55" font-size="28" text-anchor="middle" fill="#000" transform="rotate(-90 735 792.55)">H<tspan font-size="19.6" dy="7">2</tspan><tspan dy="-7"> FE (%)</tspan></text>
<text x="696.2" y="599.5" font-size="51" text-anchor="start" fill="#000">d</text>
<path d="M1529.47,58.12 1545.93,60.45 1560.8,62.68 1574.23,64.82 1586.36,66.85 1597.35,68.78 1607.32,70.6 1616.42,72.31 1624.81,73.91 1632.62,75.39 1639.99,76.76 1647.06,78.01 1653.87,79.17 1660.45,80.26 1666.83,81.31 1673.03,82.34 1679.09,83.38 1685.04,84.46 1690.89,85.59 1696.7,86.8 1702.47,88.13 1708.23,89.58 1714,91.16 1719.77,92.85 1725.53,94.65 1731.3,96.54 1737.07,98.51 1742.83,100.56 1748.6,102.67 1754.37,104.83 1760.13,107.03 1765.9,109.27 1771.71,111.58 1777.56,113.99 1783.51,116.53 1789.57,119.24 1795.77,122.14 1802.15,125.28 1808.73,128.69 1815.54,132.4 1822.61,136.45 1829.98,140.91 1837.79,146.04 1846.18,152.16 1855.28,159.58 1865.25,168.6 1876.24,179.52 1888.37,192.67 1901.8,208.34 1916.67,226.84 1933.13,248.49" fill="none" stroke="#f9a3d0" stroke-width="3.1" stroke-linejoin="round" stroke-linecap="round"/>
<polygon points="1521.37,53.44 1537.57,53.44 1529.47,67.47" fill="#f9a3d0"/>
<polygon points="1579.03,61.37 1595.23,61.37 1587.13,75.4" fill="#f9a3d0"/>
<polygon points="1636.7,74.07 1652.9,74.07 1644.8,88.09" fill="#f9a3d0"/>
<polygon points="1694.37,81.2 1710.57,81.2 1702.47,95.23" fill="#f9a3d0"/>
<polygon points="1752.03,101.83 1768.23,101.83 1760.13,115.86" fill="#f9a3d0"/>
<polygon points="1809.7,125.62 1825.9,125.62 1817.8,139.65" fill="#f9a3d0"/>
<polygon points="1867.37,166.08 1883.57,166.08 1875.47,180.11" fill="#f9a3d0"/>
<polygon points="1925.03,243.81 1941.23,243.81 1933.13,257.84" fill="#f9a3d0"/>
<path d="M1529.47,75.97 1545.93,74.09 1560.8,72.94 1574.23,72.42 1586.36,72.43 1597.35,72.88 1607.32,73.7 1616.42,74.77 1624.81,76.02 1632.62,77.35 1639.99,78.68 1647.06,79.92 1653.87,81.07 1660.45,82.15 1666.83,83.16 1673.03,84.12 1679.09,85.04 1685.04,85.93 1690.89,86.8 1696.7,87.66 1702.47,88.52 1708.23,89.41 1714,90.3 1719.77,91.22 1725.53,92.16 1731.3,93.12 1737.07,94.1 1742.83,95.11 1748.6,96.15 1754.37,97.21 1760.13,98.31 1765.9,99.43 1771.71,100.59 1777.56,101.76 1783.51,102.96 1789.57,104.17 1795.77,105.4 1802.15,106.63 1808.73,107.87 1815.54,109.1 1822.61,110.34 1829.98,111.59 1837.79,113.04 1846.18,114.85 1855.28,117.23 1865.25,120.37 1876.24,124.45 1888.37,129.68 1901.8,136.23 1916.67,144.31 1933.13,154.1" fill="none" stroke="#8fc7e4" stroke-width="3.1" stroke-linejoin="round" stroke-linecap="round"/>
<circle cx="1529.47" cy="75.97" r="7.0" fill="#8fc7e4"/>
<circle cx="1587.13" cy="68.43" r="7.0" fill="#8fc7e4"/>
<circle cx="1644.8" cy="80.33" r="7.0" fill="#8fc7e4"/>
<circle cx="1702.47" cy="88.26" r="7.0" fill="#8fc7e4"/>
<circle cx="1760.13" cy="97.78" r="7.0" fill="#8fc7e4"/>
<circle cx="1817.8" cy="110.47" r="7.0" fill="#8fc7e4"/>
<circle cx="1875.47" cy="118.4" r="7.0" fill="#8fc7e4"/>
<circle cx="1933.13" cy="154.1" r="7.0" fill="#8fc7e4"/>
<path d="M1529.47,58.91 1545.93,60.13 1560.8,61.41 1574.23,62.72 1586.36,64.05 1597.35,65.38 1607.32,66.69 1616.42,67.97 1624.81,69.19 1632.62,70.34 1639.99,71.4 1647.06,72.36 1653.87,73.22 1660.45,73.99 1666.83,74.67 1673.03,75.28 1679.09,75.82 1685.04,76.29 1690.89,76.71 1696.7,77.09 1702.47,77.42 1708.23,77.72 1714,78 1719.77,78.26 1725.53,78.51 1731.3,78.76 1737.07,79.01 1742.83,79.27 1748.6,79.55 1754.37,79.86 1760.13,80.2 1765.9,80.57 1771.71,81 1777.56,81.49 1783.51,82.04 1789.57,82.67 1795.77,83.39 1802.15,84.21 1808.73,85.13 1815.54,86.17 1822.61,87.33 1829.98,88.64 1837.79,90.13 1846.18,91.87 1855.28,93.9 1865.25,96.27 1876.24,99.05 1888.37,102.28 1901.8,106.02 1916.67,110.32 1933.13,115.23" fill="none" stroke="#86b9a2" stroke-width="3.1" stroke-linejoin="round" stroke-linecap="round"/>
<polygon points="1521.37,63.59 1537.57,63.59 1529.47,49.56" fill="#86b9a2"/>
<polygon points="1579.03,67.55 1595.23,67.55 1587.13,53.52" fill="#86b9a2"/>
<polygon points="1636.7,77.87 1652.9,77.87 1644.8,63.84" fill="#86b9a2"/>
<polygon points="1694.37,82.62 1710.57,82.62 1702.47,68.6" fill="#86b9a2"/>
<polygon points="1752.03,84.21 1768.23,84.21 1760.13,70.18" fill="#86b9a2"/>
<polygon points="1809.7,89.76 1825.9,89.76 1817.8,75.73" fill="#86b9a2"/>
<polygon points="1867.37,102.45 1883.57,102.45 1875.47,88.43" fill="#86b9a2"/>
<polygon points="1925.03,119.91 1941.23,119.91 1933.13,105.88" fill="#86b9a2"/>
<path d="M1529.47,57.33 1545.93,59.1 1560.8,60.65 1574.23,61.98 1586.36,63.14 1597.35,64.14 1607.32,65.02 1616.42,65.8 1624.81,66.51 1632.62,67.18 1639.99,67.84 1647.06,68.49 1653.87,69.15 1660.45,69.78 1666.83,70.39 1673.03,70.94 1679.09,71.43 1685.04,71.85 1690.89,72.16 1696.7,72.38 1702.47,72.46 1708.23,72.42 1714,72.26 1719.77,72.01 1725.53,71.7 1731.3,71.35 1737.07,70.98 1742.83,70.63 1748.6,70.31 1754.37,70.05 1760.13,69.88 1765.9,69.82 1771.71,69.87 1777.56,70.05 1783.51,70.35 1789.57,70.78 1795.77,71.34 1802.15,72.04 1808.73,72.89 1815.54,73.89 1822.61,75.04 1829.98,76.33 1837.79,77.7 1846.18,79.04 1855.28,80.27 1865.25,81.3 1876.24,82.05 1888.37,82.41 1901.8,82.3 1916.67,81.64 1933.13,80.33" fill="none" stroke="#fc8380" stroke-width="3.1" stroke-linejoin="round" stroke-linecap="round"/>
<polygon points="1523.27,51.13 1535.67,51.13 1535.67,63.53 1523.27,63.53" fill="#fc8380"/>
<polygon points="1580.93,57.47 1593.33,57.47 1593.33,69.87 1580.93,69.87" fill="#fc8380"/>
<polygon points="1638.6,61.44 1651,61.44 1651,73.84 1638.6,73.84" fill="#fc8380"/>
<polygon points="1696.27,68.58 1708.67,68.58 1708.67,80.98 1696.27,80.98" fill="#fc8380"/>
<polygon points="1753.93,61.83 1766.33,61.83 1766.33,74.23 1753.93,74.23" fill="#fc8380"/>
<polygon points="1811.6,66.2 1824,66.2 1824,78.6 1811.6,78.6" fill="#fc8380"/>
<polygon points="1869.27,79.68 1881.67,79.68 1881.67,92.08 1869.27,92.08" fill="#fc8380"/>
<polygon points="1926.93,74.13 1939.33,74.13 1939.33,86.53 1926.93,86.53" fill="#fc8380"/>
<path d="M1529.47,196.14 1545.93,173.95 1560.8,156.34 1574.23,142.86 1586.36,133.07 1597.35,126.49 1607.32,122.7 1616.42,121.23 1624.81,121.63 1632.62,123.45 1639.99,126.23 1647.06,129.61 1653.87,133.44 1660.45,137.68 1666.83,142.26 1673.03,147.13 1679.09,152.23 1685.04,157.5 1690.89,162.89 1696.7,168.34 1702.47,173.79 1708.23,179.2 1714,184.53 1719.77,189.77 1725.53,194.91 1731.3,199.93 1737.07,204.81 1742.83,209.54 1748.6,214.1 1754.37,218.47 1760.13,222.64 1765.9,226.61 1771.71,230.44 1777.56,234.22 1783.51,238.03 1789.57,241.95 1795.77,246.05 1802.15,250.43 1808.73,255.17 1815.54,260.34 1822.61,266.04 1829.98,272.33 1837.79,279.33 1846.18,287.12 1855.28,295.8 1865.25,305.49 1876.24,316.26 1888.37,328.22 1901.8,341.47 1916.67,356.11 1933.13,372.23" fill="none" stroke="#a685ad" stroke-width="3.1" stroke-linejoin="round" stroke-linecap="round"/>
<polygon points="1521.27,196.14 1529.47,187.34 1537.67,196.14 1529.47,204.94" fill="#a685ad"/>
<polygon points="1578.93,114.04 1587.13,105.24 1595.33,114.04 1587.13,122.84" fill="#a685ad"/>
<polygon points="1636.6,117.61 1644.8,108.81 1653,117.61 1644.8,126.41" fill="#a685ad"/>
<polygon points="1694.27,174.72 1702.47,165.92 1710.67,174.72 1702.47,183.52" fill="#a685ad"/>
<polygon points="1751.93,226.28 1760.13,217.48 1768.33,226.28 1760.13,235.08" fill="#a685ad"/>
<polygon points="1809.6,256.02 1817.8,247.22 1826,256.02 1817.8,264.82" fill="#a685ad"/>
<polygon points="1867.27,315.91 1875.47,307.11 1883.67,315.91 1875.47,324.71" fill="#a685ad"/>
<polygon points="1924.93,372.23 1933.13,363.43 1941.33,372.23 1933.13,381.03" fill="#a685ad"/>
<path d="M1529.47,443.85 1545.93,442.98 1560.8,442.22 1574.23,441.57 1586.36,441.02 1597.35,440.55 1607.32,440.15 1616.42,439.8 1624.81,439.5 1632.62,439.22 1639.99,438.96 1647.06,438.71 1653.87,438.45 1660.45,438.21 1666.83,437.97 1673.03,437.73 1679.09,437.51 1685.04,437.3 1690.89,437.11 1696.7,436.92 1702.47,436.76 1708.23,436.61 1714,436.48 1719.77,436.36 1725.53,436.27 1731.3,436.18 1737.07,436.11 1742.83,436.05 1748.6,436 1754.37,435.96 1760.13,435.94 1765.9,435.92 1771.71,435.91 1777.56,435.92 1783.51,435.94 1789.57,435.98 1795.77,436.03 1802.15,436.11 1808.73,436.21 1815.54,436.33 1822.61,436.48 1829.98,436.66 1837.79,436.86 1846.18,437.11 1855.28,437.39 1865.25,437.71 1876.24,438.07 1888.37,438.49 1901.8,438.95 1916.67,439.47 1933.13,440.04" fill="none" stroke="#808080" stroke-width="3.1" stroke-linejoin="round" stroke-linecap="round"/>
<polygon points="1529.47,435.75 1536.48,439.8 1536.48,447.9 1529.47,451.95 1522.45,447.9 1522.45,439.8" fill="#808080"/>
<polygon points="1587.13,432.62 1594.15,436.67 1594.15,444.77 1587.13,448.82 1580.12,444.77 1580.12,436.67" fill="#808080"/>
<polygon points="1644.8,430.82 1651.81,434.87 1651.81,442.97 1644.8,447.02 1637.79,442.97 1637.79,434.87" fill="#808080"/>
<polygon points="1702.47,428.36 1709.48,432.41 1709.48,440.51 1702.47,444.56 1695.45,440.51 1695.45,432.41" fill="#808080"/>
<polygon points="1760.13,427.69 1767.15,431.74 1767.15,439.84 1760.13,443.89 1753.12,439.84 1753.12,431.74" fill="#808080"/>
<polygon points="1817.8,427.91 1824.81,431.96 1824.81,440.06 1817.8,444.11 1810.79,440.06 1810.79,431.96" fill="#808080"/>
<polygon points="1875.47,429.93 1882.48,433.98 1882.48,442.08 1875.47,446.13 1868.45,442.08 1868.45,433.98" fill="#808080"/>
<polygon points="1933.13,431.94 1940.15,435.99 1940.15,444.09 1933.13,448.14 1926.12,444.09 1926.12,435.99" fill="#808080"/>
<path d="M1529.47,42.25V73.98M1524.67,42.25h9.6M1524.67,73.98h9.6M1587.13,50.19V81.91M1582.33,50.19h9.6M1582.33,81.91h9.6M1644.8,58.91V98.57M1640,58.91h9.6M1640,98.57h9.6M1702.47,58.91V112.85M1697.67,58.91h9.6M1697.67,112.85h9.6M1760.13,94.61V118.4M1755.33,94.61h9.6M1755.33,118.4h9.6M1817.8,116.82V143.78M1813,116.82h9.6M1813,143.78h9.6M1875.47,155.29V186.22M1870.67,155.29h9.6M1870.67,186.22h9.6M1933.13,233.42V263.56M1928.33,233.42h9.6M1928.33,263.56h9.6" fill="none" stroke="#f9a3d0" stroke-width="1.6"/>
<path d="M1529.47,58.52V93.42M1524.67,58.52h9.6M1524.67,93.42h9.6M1587.13,50.19V86.67M1582.33,50.19h9.6M1582.33,86.67h9.6M1644.8,62.88V97.78M1640,62.88h9.6M1640,97.78h9.6M1702.47,63.67V112.85M1697.67,63.67h9.6M1697.67,112.85h9.6M1760.13,79.53V116.02M1755.33,79.53h9.6M1755.33,116.02h9.6M1817.8,93.81V127.13M1813,93.81h9.6M1813,127.13h9.6M1875.47,97.78V139.02M1870.67,97.78h9.6M1870.67,139.02h9.6M1933.13,131.49V176.7M1928.33,131.49h9.6M1928.33,176.7h9.6" fill="none" stroke="#8fc7e4" stroke-width="1.6"/>
<path d="M1529.47,39.87V77.95M1524.67,39.87h9.6M1524.67,77.95h9.6M1587.13,49.39V76.36M1582.33,49.39h9.6M1582.33,76.36h9.6M1644.8,57.33V89.05M1640,57.33h9.6M1640,89.05h9.6M1702.47,58.12V97.78M1697.67,58.12h9.6M1697.67,97.78h9.6M1760.13,51.77V107.3M1755.33,51.77h9.6M1755.33,107.3h9.6M1817.8,55.74V114.44M1813,55.74h9.6M1813,114.44h9.6M1875.47,71.6V123.95M1870.67,71.6h9.6M1870.67,123.95h9.6M1933.13,93.02V137.44M1928.33,93.02h9.6M1928.33,137.44h9.6" fill="none" stroke="#86b9a2" stroke-width="1.6"/>
<path d="M1529.47,50.19V64.46M1524.67,50.19h9.6M1524.67,64.46h9.6M1587.13,53.36V73.98M1582.33,53.36h9.6M1582.33,73.98h9.6M1644.8,54.95V80.33M1640,54.95h9.6M1640,80.33h9.6M1702.47,65.26V84.29M1697.67,65.26h9.6M1697.67,84.29h9.6M1760.13,58.52V77.55M1755.33,58.52h9.6M1755.33,77.55h9.6M1817.8,57.33V87.47M1813,57.33h9.6M1813,87.47h9.6M1875.47,70.02V101.74M1870.67,70.02h9.6M1870.67,101.74h9.6M1933.13,64.46V96.19M1928.33,64.46h9.6M1928.33,96.19h9.6" fill="none" stroke="#fc8380" stroke-width="1.6"/>
<path d="M1529.47,182.25V210.02M1524.67,182.25h9.6M1524.67,210.02h9.6M1587.13,88.66V139.42M1582.33,88.66h9.6M1582.33,139.42h9.6M1644.8,107.69V127.52M1640,107.69h9.6M1640,127.52h9.6M1702.47,147.75V201.69M1697.67,147.75h9.6M1697.67,201.69h9.6M1760.13,208.03V244.52M1755.33,208.03h9.6M1755.33,244.52h9.6M1817.8,239.36V272.68M1813,239.36h9.6M1813,272.68h9.6M1875.47,291.32V340.5M1870.67,291.32h9.6M1870.67,340.5h9.6M1933.13,353.19V391.26M1928.33,353.19h9.6M1928.33,391.26h9.6" fill="none" stroke="#a685ad" stroke-width="1.6"/>
<line x1="1515.6" y1="248" x2="1568.3" y2="248" stroke="#f9a3d0" stroke-width="3.1" stroke-linecap="round"/>
<polygon points="1533.05,243.32 1549.25,243.32 1541.15,257.35" fill="#f9a3d0"/>
<text x="1574.7" y="256.4" font-size="23.6" text-anchor="start" fill="#000">pH 4</text>
<line x1="1515.6" y1="276.94" x2="1568.3" y2="276.94" stroke="#8fc7e4" stroke-width="3.1" stroke-linecap="round"/>
<circle cx="1541.15" cy="276.94" r="7.0" fill="#8fc7e4"/>
<text x="1574.7" y="285.34" font-size="23.6" text-anchor="start" fill="#000">pH 3</text>
<line x1="1515.6" y1="305.88" x2="1568.3" y2="305.88" stroke="#86b9a2" stroke-width="3.1" stroke-linecap="round"/>
<polygon points="1533.05,310.56 1549.25,310.56 1541.15,296.53" fill="#86b9a2"/>
<text x="1574.7" y="314.28" font-size="23.6" text-anchor="start" fill="#000">pH 2</text>
<line x1="1515.6" y1="334.82" x2="1568.3" y2="334.82" stroke="#fc8380" stroke-width="3.1" stroke-linecap="round"/>
<polygon points="1534.95,328.62 1547.35,328.62 1547.35,341.02 1534.95,341.02" fill="#fc8380"/>
<text x="1574.7" y="343.22" font-size="23.6" text-anchor="start" fill="#000">pH 1</text>
<line x1="1515.6" y1="363.76" x2="1568.3" y2="363.76" stroke="#a685ad" stroke-width="3.1" stroke-linecap="round"/>
<polygon points="1532.95,363.76 1541.15,354.96 1549.35,363.76 1541.15,372.56" fill="#a685ad"/>
<text x="1574.7" y="372.16" font-size="23.6" text-anchor="start" fill="#000">pH 0.5</text>
<line x1="1515.6" y1="392.7" x2="1568.3" y2="392.7" stroke="#808080" stroke-width="3.1" stroke-linecap="round"/>
<polygon points="1541.15,385.17 1548.16,388.93 1548.16,396.47 1541.15,400.23 1534.14,396.47 1534.14,388.93" fill="#808080"/>
<text x="1574.7" y="401.1" font-size="23.6" text-anchor="start" fill="#000">pH 0</text>
<rect x="1471.8" y="33" width="519" height="418" fill="none" stroke="#000" stroke-width="2.1"/>
<rect x="1468.8" y="405.4" width="6" height="7.4" fill="#fff"/>
<line x1="1463.4" y1="409.7" x2="1480.2" y2="401.1" stroke="#000" stroke-width="1.9"/>
<line x1="1463.4" y1="417.1" x2="1480.2" y2="408.5" stroke="#000" stroke-width="1.9"/>
<rect x="1987.8" y="405.4" width="6" height="7.4" fill="#fff"/>
<line x1="1982.4" y1="409.7" x2="1999.2" y2="401.1" stroke="#000" stroke-width="1.9"/>
<line x1="1982.4" y1="417.1" x2="1999.2" y2="408.5" stroke="#000" stroke-width="1.9"/>
<line x1="1463.1" y1="444.3" x2="1471.8" y2="444.3" stroke="#000" stroke-width="2"/>
<text x="1457.8" y="452.4" font-size="26" text-anchor="end" fill="#000">0</text>
<line x1="1463.1" y1="421.9" x2="1471.8" y2="421.9" stroke="#000" stroke-width="2"/>
<text x="1457.8" y="430" font-size="26" text-anchor="end" fill="#000">10</text>
<line x1="1463.1" y1="365.88" x2="1471.8" y2="365.88" stroke="#000" stroke-width="2"/>
<text x="1457.8" y="373.98" font-size="26" text-anchor="end" fill="#000">60</text>
<line x1="1463.1" y1="286.56" x2="1471.8" y2="286.56" stroke="#000" stroke-width="2"/>
<text x="1457.8" y="294.66" font-size="26" text-anchor="end" fill="#000">70</text>
<line x1="1463.1" y1="207.24" x2="1471.8" y2="207.24" stroke="#000" stroke-width="2"/>
<text x="1457.8" y="215.34" font-size="26" text-anchor="end" fill="#000">80</text>
<line x1="1463.1" y1="127.92" x2="1471.8" y2="127.92" stroke="#000" stroke-width="2"/>
<text x="1457.8" y="136.02" font-size="26" text-anchor="end" fill="#000">90</text>
<line x1="1463.1" y1="48.6" x2="1471.8" y2="48.6" stroke="#000" stroke-width="2"/>
<text x="1457.8" y="56.7" font-size="26" text-anchor="end" fill="#000">100</text>
<line x1="1471.8" y1="451" x2="1471.8" y2="459.5" stroke="#000" stroke-width="2"/>
<text x="1471.8" y="485.3" font-size="26" text-anchor="middle" fill="#000">0</text>
<line x1="1529.47" y1="451" x2="1529.47" y2="455.3" stroke="#000" stroke-width="2"/>
<line x1="1587.13" y1="451" x2="1587.13" y2="459.5" stroke="#000" stroke-width="2"/>
<text x="1587.13" y="485.3" font-size="26" text-anchor="middle" fill="#000">1</text>
<line x1="1644.8" y1="451" x2="1644.8" y2="455.3" stroke="#000" stroke-width="2"/>
<line x1="1702.47" y1="451" x2="1702.47" y2="459.5" stroke="#000" stroke-width="2"/>
<text x="1702.47" y="485.3" font-size="26" text-anchor="middle" fill="#000">2</text>
<line x1="1760.13" y1="451" x2="1760.13" y2="455.3" stroke="#000" stroke-width="2"/>
<line x1="1817.8" y1="451" x2="1817.8" y2="459.5" stroke="#000" stroke-width="2"/>
<text x="1817.8" y="485.3" font-size="26" text-anchor="middle" fill="#000">3</text>
<line x1="1875.47" y1="451" x2="1875.47" y2="455.3" stroke="#000" stroke-width="2"/>
<line x1="1933.13" y1="451" x2="1933.13" y2="459.5" stroke="#000" stroke-width="2"/>
<text x="1933.13" y="485.3" font-size="26" text-anchor="middle" fill="#000">4</text>
<line x1="1990.8" y1="451" x2="1990.8" y2="455.3" stroke="#000" stroke-width="2"/>
<text x="1731.8" y="526.1" font-size="28.1" text-anchor="middle" fill="#000"><tspan font-style="italic">j</tspan> (A/cm<tspan font-size="17.5" dy="-10.5">2</tspan><tspan dy="10.5">)</tspan></text>
<text x="1406" y="242" font-size="28" text-anchor="middle" fill="#000" transform="rotate(-90 1406 242)">CO FE (%)</text>
<text x="1364" y="44" font-size="51" text-anchor="start" fill="#000">e</text>
<path d="M1530.47,968.49 1546.93,968.08 1561.8,967.65 1575.23,967.22 1587.36,966.78 1598.35,966.3 1608.32,965.81 1617.42,965.28 1625.81,964.71 1633.62,964.09 1640.99,963.43 1648.06,962.71 1654.87,961.94 1661.45,961.1 1667.83,960.2 1674.03,959.23 1680.09,958.2 1686.04,957.09 1691.89,955.91 1697.7,954.65 1703.47,953.31 1709.23,951.89 1715,950.41 1720.77,948.88 1726.53,947.33 1732.3,945.78 1738.07,944.24 1743.83,942.73 1749.6,941.27 1755.37,939.88 1761.13,938.59 1766.9,937.39 1772.71,936.25 1778.56,935.09 1784.51,933.86 1790.57,932.51 1796.77,930.96 1803.15,929.17 1809.73,927.06 1816.54,924.59 1823.61,921.69 1830.98,918.24 1838.79,913.95 1847.18,908.46 1856.28,901.4 1866.25,892.43 1877.24,881.19 1889.37,867.31 1902.8,850.45 1917.67,830.25 1934.13,806.34" fill="none" stroke="#f9a3d0" stroke-width="3.1" stroke-linejoin="round" stroke-linecap="round"/>
<polygon points="1522.37,963.81 1538.57,963.81 1530.47,977.84" fill="#f9a3d0"/>
<polygon points="1580.03,962.43 1596.23,962.43 1588.13,976.46" fill="#f9a3d0"/>
<polygon points="1637.7,959.67 1653.9,959.67 1645.8,973.7" fill="#f9a3d0"/>
<polygon points="1695.37,950.01 1711.57,950.01 1703.47,964.04" fill="#f9a3d0"/>
<polygon points="1753.03,932.07 1769.23,932.07 1761.13,946.1" fill="#f9a3d0"/>
<polygon points="1810.7,925.17 1826.9,925.17 1818.8,939.2" fill="#f9a3d0"/>
<polygon points="1868.37,887.91 1884.57,887.91 1876.47,901.94" fill="#f9a3d0"/>
<polygon points="1926.03,801.66 1942.23,801.66 1934.13,815.69" fill="#f9a3d0"/>
<path d="M1530.47,972.63 1546.93,969.09 1561.8,966.26 1575.23,964.08 1587.36,962.44 1598.35,961.26 1608.32,960.46 1617.42,959.95 1625.81,959.64 1633.62,959.45 1640.99,959.29 1648.06,959.09 1654.87,958.83 1661.45,958.52 1667.83,958.15 1674.03,957.72 1680.09,957.24 1686.04,956.69 1691.89,956.08 1697.7,955.42 1703.47,954.69 1709.23,953.9 1715,953.06 1720.77,952.18 1726.53,951.26 1732.3,950.31 1738.07,949.35 1743.83,948.39 1749.6,947.43 1755.37,946.48 1761.13,945.55 1766.9,944.64 1772.71,943.74 1778.56,942.82 1784.51,941.83 1790.57,940.77 1796.77,939.59 1803.15,938.27 1809.73,936.78 1816.54,935.1 1823.61,933.19 1830.98,931.01 1838.79,928.54 1847.18,925.71 1856.28,922.48 1866.25,918.8 1877.24,914.61 1889.37,909.88 1902.8,904.55 1917.67,898.57 1934.13,891.9" fill="none" stroke="#8fc7e4" stroke-width="3.1" stroke-linejoin="round" stroke-linecap="round"/>
<circle cx="1530.47" cy="972.63" r="7.0" fill="#8fc7e4"/>
<circle cx="1588.13" cy="959.52" r="7.0" fill="#8fc7e4"/>
<circle cx="1645.8" cy="960.21" r="7.0" fill="#8fc7e4"/>
<circle cx="1703.47" cy="955.73" r="7.0" fill="#8fc7e4"/>
<circle cx="1761.13" cy="945.03" r="7.0" fill="#8fc7e4"/>
<circle cx="1818.8" cy="937.44" r="7.0" fill="#8fc7e4"/>
<circle cx="1876.47" cy="915.36" r="7.0" fill="#8fc7e4"/>
<circle cx="1934.13" cy="891.9" r="7.0" fill="#8fc7e4"/>
<path d="M1530.47,971.6 1546.93,972.66 1561.8,973.39 1575.23,973.84 1587.36,974.03 1598.35,974.03 1608.32,973.87 1617.42,973.59 1625.81,973.23 1633.62,972.84 1640.99,972.46 1648.06,972.12 1654.87,971.81 1661.45,971.53 1667.83,971.24 1674.03,970.94 1680.09,970.61 1686.04,970.22 1691.89,969.77 1697.7,969.24 1703.47,968.61 1709.23,967.86 1715,967.01 1720.77,966.07 1726.53,965.06 1732.3,964 1738.07,962.89 1743.83,961.75 1749.6,960.6 1755.37,959.45 1761.13,958.31 1766.9,957.21 1772.71,956.13 1778.56,955.09 1784.51,954.07 1790.57,953.09 1796.77,952.14 1803.15,951.21 1809.73,950.32 1816.54,949.46 1823.61,948.62 1830.98,947.8 1838.79,946.85 1847.18,945.66 1856.28,944.06 1866.25,941.92 1877.24,939.1 1889.37,935.45 1902.8,930.83 1917.67,925.1 1934.13,918.12" fill="none" stroke="#86b9a2" stroke-width="3.1" stroke-linejoin="round" stroke-linecap="round"/>
<polygon points="1522.37,976.27 1538.57,976.27 1530.47,962.24" fill="#86b9a2"/>
<polygon points="1580.03,980.41 1596.23,980.41 1588.13,966.38" fill="#86b9a2"/>
<polygon points="1637.7,976.27 1653.9,976.27 1645.8,962.24" fill="#86b9a2"/>
<polygon points="1695.37,975.24 1711.57,975.24 1703.47,961.21" fill="#86b9a2"/>
<polygon points="1753.03,962.47 1769.23,962.47 1761.13,948.44" fill="#86b9a2"/>
<polygon points="1810.7,952.81 1826.9,952.81 1818.8,938.78" fill="#86b9a2"/>
<polygon points="1868.37,948.33 1884.57,948.33 1876.47,934.3" fill="#86b9a2"/>
<polygon points="1926.03,922.8 1942.23,922.8 1934.13,908.77" fill="#86b9a2"/>
<path d="M1530.47,979.53 1546.93,978.57 1561.8,977.58 1575.23,976.56 1587.36,975.53 1598.35,974.5 1608.32,973.48 1617.42,972.48 1625.81,971.53 1633.62,970.62 1640.99,969.78 1648.06,969.02 1654.87,968.33 1661.45,967.7 1667.83,967.14 1674.03,966.63 1680.09,966.18 1686.04,965.76 1691.89,965.39 1697.7,965.06 1703.47,964.75 1709.23,964.47 1715,964.2 1720.77,963.95 1726.53,963.69 1732.3,963.43 1738.07,963.15 1743.83,962.85 1749.6,962.52 1755.37,962.15 1761.13,961.74 1766.9,961.28 1772.71,960.77 1778.56,960.25 1784.51,959.7 1790.57,959.16 1796.77,958.63 1803.15,958.13 1809.73,957.67 1816.54,957.26 1823.61,956.92 1830.98,956.66 1838.79,956.51 1847.18,956.51 1856.28,956.7 1866.25,957.11 1877.24,957.77 1889.37,958.72 1902.8,960 1917.67,961.63 1934.13,963.66" fill="none" stroke="#fc8380" stroke-width="3.1" stroke-linejoin="round" stroke-linecap="round"/>
<polygon points="1524.27,973.33 1536.67,973.33 1536.67,985.73 1524.27,985.73" fill="#fc8380"/>
<polygon points="1581.93,970.22 1594.33,970.22 1594.33,982.62 1581.93,982.62" fill="#fc8380"/>
<polygon points="1639.6,962.29 1652,962.29 1652,974.69 1639.6,974.69" fill="#fc8380"/>
<polygon points="1697.27,958.15 1709.67,958.15 1709.67,970.55 1697.27,970.55" fill="#fc8380"/>
<polygon points="1754.93,956.42 1767.33,956.42 1767.33,968.83 1754.93,968.83" fill="#fc8380"/>
<polygon points="1812.6,949.39 1825,949.39 1825,961.79 1812.6,961.79" fill="#fc8380"/>
<polygon points="1870.27,950.01 1882.67,950.01 1882.67,962.41 1870.27,962.41" fill="#fc8380"/>
<polygon points="1927.93,957.46 1940.33,957.46 1940.33,969.86 1927.93,969.86" fill="#fc8380"/>
<path d="M1530.47,861.88 1546.93,877.7 1561.8,890.55 1575.23,900.7 1587.36,908.44 1598.35,914.03 1608.32,917.74 1617.42,919.86 1625.81,920.65 1633.62,920.39 1640.99,919.36 1648.06,917.77 1654.87,915.72 1661.45,913.23 1667.83,910.33 1674.03,907.07 1680.09,903.47 1686.04,899.58 1691.89,895.42 1697.7,891.03 1703.47,886.44 1709.23,881.69 1715,876.83 1720.77,871.92 1726.53,867 1732.3,862.14 1738.07,857.37 1743.83,852.76 1749.6,848.36 1755.37,844.21 1761.13,840.38 1766.9,836.89 1772.71,833.65 1778.56,830.57 1784.51,827.53 1790.57,824.42 1796.77,821.14 1803.15,817.57 1809.73,813.62 1816.54,809.17 1823.61,804.11 1830.98,798.34 1838.79,791.74 1847.18,784.22 1856.28,775.65 1866.25,765.94 1877.24,754.96 1889.37,742.62 1902.8,728.8 1917.67,713.39 1934.13,696.28" fill="none" stroke="#a685ad" stroke-width="3.1" stroke-linejoin="round" stroke-linecap="round"/>
<polygon points="1522.27,861.88 1530.47,853.09 1538.67,861.88 1530.47,870.68" fill="#a685ad"/>
<polygon points="1579.93,919.85 1588.13,911.05 1596.33,919.85 1588.13,928.64" fill="#a685ad"/>
<polygon points="1637.6,927.78 1645.8,918.98 1654,927.78 1645.8,936.58" fill="#a685ad"/>
<polygon points="1695.27,889.14 1703.47,880.34 1711.67,889.14 1703.47,897.94" fill="#a685ad"/>
<polygon points="1752.93,834.28 1761.13,825.49 1769.33,834.28 1761.13,843.08" fill="#a685ad"/>
<polygon points="1810.6,816 1818.8,807.2 1827,816 1818.8,824.8" fill="#a685ad"/>
<polygon points="1868.27,756.25 1876.47,747.45 1884.67,756.25 1876.47,765.05" fill="#a685ad"/>
<polygon points="1925.93,696.28 1934.13,687.49 1942.33,696.28 1934.13,705.08" fill="#a685ad"/>
<path d="M1530.47,595.53 1546.93,595.82 1561.8,596.14 1575.23,596.47 1587.36,596.81 1598.35,597.16 1608.32,597.5 1617.42,597.82 1625.81,598.11 1633.62,598.38 1640.99,598.6 1648.06,598.78 1654.87,598.92 1661.45,599.02 1667.83,599.11 1674.03,599.19 1680.09,599.26 1686.04,599.34 1691.89,599.44 1697.7,599.57 1703.47,599.73 1709.23,599.93 1715,600.17 1720.77,600.43 1726.53,600.71 1732.3,600.98 1738.07,601.25 1743.83,601.49 1749.6,601.7 1755.37,601.87 1761.13,601.98 1766.9,602.03 1772.71,602.01 1778.56,601.94 1784.51,601.83 1790.57,601.66 1796.77,601.46 1803.15,601.22 1809.73,600.95 1816.54,600.66 1823.61,600.36 1830.98,600.04 1838.79,599.72 1847.18,599.42 1856.28,599.15 1866.25,598.92 1877.24,598.76 1889.37,598.66 1902.8,598.66 1917.67,598.75 1934.13,598.96" fill="none" stroke="#808080" stroke-width="3.1" stroke-linejoin="round" stroke-linecap="round"/>
<polygon points="1530.47,587.43 1537.48,591.48 1537.48,599.58 1530.47,603.63 1523.45,599.58 1523.45,591.48" fill="#808080"/>
<polygon points="1588.13,588.34 1595.15,592.39 1595.15,600.49 1588.13,604.54 1581.12,600.49 1581.12,592.39" fill="#808080"/>
<polygon points="1645.8,591.32 1652.81,595.37 1652.81,603.47 1645.8,607.52 1638.79,603.47 1638.79,595.37" fill="#808080"/>
<polygon points="1703.47,590.86 1710.48,594.91 1710.48,603.01 1703.47,607.06 1696.45,603.01 1696.45,594.91" fill="#808080"/>
<polygon points="1761.13,594.99 1768.15,599.04 1768.15,607.14 1761.13,611.19 1754.12,607.14 1754.12,599.04" fill="#808080"/>
<polygon points="1818.8,592.47 1825.81,596.52 1825.81,604.62 1818.8,608.67 1811.79,604.62 1811.79,596.52" fill="#808080"/>
<polygon points="1876.47,589.95 1883.48,594 1883.48,602.1 1876.47,606.15 1869.45,602.1 1869.45,594" fill="#808080"/>
<polygon points="1934.13,590.86 1941.15,594.91 1941.15,603.01 1934.13,607.06 1927.12,603.01 1927.12,594.91" fill="#808080"/>
<path d="M1530.47,954.69V982.29M1525.67,954.69h9.6M1525.67,982.29h9.6M1588.13,958.14V976.08M1583.33,958.14h9.6M1583.33,976.08h9.6M1645.8,954V974.7M1641,954h9.6M1641,974.7h9.6M1703.47,943.65V965.73M1698.67,943.65h9.6M1698.67,965.73h9.6M1761.13,927.78V945.72M1756.33,927.78h9.6M1756.33,945.72h9.6M1818.8,910.53V949.17M1814,910.53h9.6M1814,949.17h9.6M1876.47,882.24V902.94M1871.67,882.24h9.6M1871.67,902.94h9.6M1934.13,774.94V837.74M1929.33,774.94h9.6M1929.33,837.74h9.6" fill="none" stroke="#f9a3d0" stroke-width="1.6"/>
<path d="M1530.47,965.73V979.53M1525.67,965.73h9.6M1525.67,979.53h9.6M1588.13,950.55V968.49M1583.33,950.55h9.6M1583.33,968.49h9.6M1645.8,946.75V973.66M1641,946.75h9.6M1641,973.66h9.6M1703.47,941.24V970.22M1698.67,941.24h9.6M1698.67,970.22h9.6M1761.13,934.68V955.38M1756.33,934.68h9.6M1756.33,955.38h9.6M1818.8,923.64V951.24M1814,923.64h9.6M1814,951.24h9.6M1876.47,894.66V936.06M1871.67,894.66h9.6M1871.67,936.06h9.6M1934.13,860.85V922.95M1929.33,860.85h9.6M1929.33,922.95h9.6" fill="none" stroke="#8fc7e4" stroke-width="1.6"/>
<path d="M1530.47,965.38V977.8M1525.67,965.38h9.6M1525.67,977.8h9.6M1588.13,969.52V981.95M1583.33,969.52h9.6M1583.33,981.95h9.6M1645.8,959.17V984.01M1641,959.17h9.6M1641,984.01h9.6M1703.47,956.76V984.36M1698.67,956.76h9.6M1698.67,984.36h9.6M1761.13,935.72V979.88M1756.33,935.72h9.6M1756.33,979.88h9.6M1818.8,917.77V978.5M1814,917.77h9.6M1814,978.5h9.6M1876.47,929.85V957.45M1871.67,929.85h9.6M1871.67,957.45h9.6M1934.13,905.7V930.54M1929.33,905.7h9.6M1929.33,930.54h9.6" fill="none" stroke="#86b9a2" stroke-width="1.6"/>
<path d="M1530.47,976.08V982.98M1525.67,976.08h9.6M1525.67,982.98h9.6M1588.13,968.14V984.71M1583.33,968.14h9.6M1583.33,984.71h9.6M1645.8,959.52V977.46M1641,959.52h9.6M1641,977.46h9.6M1703.47,955.38V973.32M1698.67,955.38h9.6M1698.67,973.32h9.6M1761.13,948.83V976.42M1756.33,948.83h9.6M1756.33,976.42h9.6M1818.8,941.79V969.39M1814,941.79h9.6M1814,969.39h9.6M1876.47,941.72V970.7M1871.67,941.72h9.6M1871.67,970.7h9.6M1934.13,954V973.32M1929.33,954h9.6M1929.33,973.32h9.6" fill="none" stroke="#fc8380" stroke-width="1.6"/>
<path d="M1530.47,850.5V873.27M1525.67,850.5h9.6M1525.67,873.27h9.6M1588.13,902.25V937.44M1583.33,902.25h9.6M1583.33,937.44h9.6M1645.8,917.43V938.13M1641,917.43h9.6M1641,938.13h9.6M1703.47,874.65V903.63M1698.67,874.65h9.6M1698.67,903.63h9.6M1761.13,816.69V851.88M1756.33,816.69h9.6M1756.33,851.88h9.6M1818.8,802.89V829.11M1814,802.89h9.6M1814,829.11h9.6M1876.47,734.86V777.64M1871.67,734.86h9.6M1871.67,777.64h9.6M1934.13,680.76V711.81M1929.33,680.76h9.6M1929.33,711.81h9.6" fill="none" stroke="#a685ad" stroke-width="1.6"/>
<line x1="1515.7" y1="649.4" x2="1568.9" y2="649.4" stroke="#f9a3d0" stroke-width="3.1" stroke-linecap="round"/>
<polygon points="1533.4,644.72 1549.6,644.72 1541.5,658.75" fill="#f9a3d0"/>
<text x="1575.5" y="657.8" font-size="23.6" text-anchor="start" fill="#000">pH 4</text>
<line x1="1515.7" y1="678.38" x2="1568.9" y2="678.38" stroke="#8fc7e4" stroke-width="3.1" stroke-linecap="round"/>
<circle cx="1541.5" cy="678.38" r="7.0" fill="#8fc7e4"/>
<text x="1575.5" y="686.78" font-size="23.6" text-anchor="start" fill="#000">pH 3</text>
<line x1="1515.7" y1="707.36" x2="1568.9" y2="707.36" stroke="#86b9a2" stroke-width="3.1" stroke-linecap="round"/>
<polygon points="1533.4,712.04 1549.6,712.04 1541.5,698.01" fill="#86b9a2"/>
<text x="1575.5" y="715.76" font-size="23.6" text-anchor="start" fill="#000">pH 2</text>
<line x1="1515.7" y1="736.34" x2="1568.9" y2="736.34" stroke="#fc8380" stroke-width="3.1" stroke-linecap="round"/>
<polygon points="1535.3,730.14 1547.7,730.14 1547.7,742.54 1535.3,742.54" fill="#fc8380"/>
<text x="1575.5" y="744.74" font-size="23.6" text-anchor="start" fill="#000">pH 1</text>
<line x1="1515.7" y1="765.32" x2="1568.9" y2="765.32" stroke="#a685ad" stroke-width="3.1" stroke-linecap="round"/>
<polygon points="1533.3,765.32 1541.5,756.52 1549.7,765.32 1541.5,774.12" fill="#a685ad"/>
<text x="1575.5" y="773.72" font-size="23.6" text-anchor="start" fill="#000">pH 0.5</text>
<line x1="1515.7" y1="794.3" x2="1568.9" y2="794.3" stroke="#808080" stroke-width="3.1" stroke-linecap="round"/>
<polygon points="1541.5,786.77 1548.51,790.53 1548.51,798.07 1541.5,801.83 1534.49,798.07 1534.49,790.53" fill="#808080"/>
<text x="1575.5" y="802.7" font-size="23.6" text-anchor="start" fill="#000">pH 0</text>
<rect x="1472.8" y="584.3" width="519" height="418.2" fill="none" stroke="#000" stroke-width="2.1"/>
<rect x="1469.8" y="622.4" width="6" height="7.4" fill="#fff"/>
<line x1="1464.4" y1="626.7" x2="1481.2" y2="618.1" stroke="#000" stroke-width="1.9"/>
<line x1="1464.4" y1="634.1" x2="1481.2" y2="625.5" stroke="#000" stroke-width="1.9"/>
<rect x="1988.8" y="622.4" width="6" height="7.4" fill="#fff"/>
<line x1="1983.4" y1="626.7" x2="2000.2" y2="618.1" stroke="#000" stroke-width="1.9"/>
<line x1="1983.4" y1="634.1" x2="2000.2" y2="625.5" stroke="#000" stroke-width="1.9"/>
<line x1="1464.1" y1="988.5" x2="1472.8" y2="988.5" stroke="#000" stroke-width="2"/>
<text x="1458.8" y="996.6" font-size="26" text-anchor="end" fill="#000">0</text>
<line x1="1464.1" y1="919.5" x2="1472.8" y2="919.5" stroke="#000" stroke-width="2"/>
<text x="1458.8" y="927.6" font-size="26" text-anchor="end" fill="#000">10</text>
<line x1="1464.1" y1="850.5" x2="1472.8" y2="850.5" stroke="#000" stroke-width="2"/>
<text x="1458.8" y="858.6" font-size="26" text-anchor="end" fill="#000">20</text>
<line x1="1464.1" y1="781.5" x2="1472.8" y2="781.5" stroke="#000" stroke-width="2"/>
<text x="1458.8" y="789.6" font-size="26" text-anchor="end" fill="#000">30</text>
<line x1="1464.1" y1="712.5" x2="1472.8" y2="712.5" stroke="#000" stroke-width="2"/>
<text x="1458.8" y="720.6" font-size="26" text-anchor="end" fill="#000">40</text>
<line x1="1464.1" y1="643.5" x2="1472.8" y2="643.5" stroke="#000" stroke-width="2"/>
<text x="1458.8" y="651.6" font-size="26" text-anchor="end" fill="#000">50</text>
<line x1="1464.1" y1="618.2" x2="1472.8" y2="618.2" stroke="#000" stroke-width="2"/>
<text x="1458.8" y="626.3" font-size="26" text-anchor="end" fill="#000">90</text>
<line x1="1464.1" y1="595.3" x2="1472.8" y2="595.3" stroke="#000" stroke-width="2"/>
<text x="1458.8" y="603.4" font-size="26" text-anchor="end" fill="#000">100</text>
<line x1="1472.8" y1="1002.5" x2="1472.8" y2="1011" stroke="#000" stroke-width="2"/>
<text x="1472.8" y="1036.8" font-size="26" text-anchor="middle" fill="#000">0</text>
<line x1="1530.47" y1="1002.5" x2="1530.47" y2="1006.8" stroke="#000" stroke-width="2"/>
<line x1="1588.13" y1="1002.5" x2="1588.13" y2="1011" stroke="#000" stroke-width="2"/>
<text x="1588.13" y="1036.8" font-size="26" text-anchor="middle" fill="#000">1</text>
<line x1="1645.8" y1="1002.5" x2="1645.8" y2="1006.8" stroke="#000" stroke-width="2"/>
<line x1="1703.47" y1="1002.5" x2="1703.47" y2="1011" stroke="#000" stroke-width="2"/>
<text x="1703.47" y="1036.8" font-size="26" text-anchor="middle" fill="#000">2</text>
<line x1="1761.13" y1="1002.5" x2="1761.13" y2="1006.8" stroke="#000" stroke-width="2"/>
<line x1="1818.8" y1="1002.5" x2="1818.8" y2="1011" stroke="#000" stroke-width="2"/>
<text x="1818.8" y="1036.8" font-size="26" text-anchor="middle" fill="#000">3</text>
<line x1="1876.47" y1="1002.5" x2="1876.47" y2="1006.8" stroke="#000" stroke-width="2"/>
<line x1="1934.13" y1="1002.5" x2="1934.13" y2="1011" stroke="#000" stroke-width="2"/>
<text x="1934.13" y="1036.8" font-size="26" text-anchor="middle" fill="#000">4</text>
<line x1="1991.8" y1="1002.5" x2="1991.8" y2="1006.8" stroke="#000" stroke-width="2"/>
<text x="1732.8" y="1077.6" font-size="28.1" text-anchor="middle" fill="#000"><tspan font-style="italic">j</tspan> (A/cm<tspan font-size="17.5" dy="-10.5">2</tspan><tspan dy="10.5">)</tspan></text>
<text x="1402" y="793.4" font-size="28" text-anchor="middle" fill="#000" transform="rotate(-90 1402 793.4)">H<tspan font-size="19.6" dy="7">2</tspan><tspan dy="-7"> FE (%)</tspan></text>
<text x="1371.4" y="603.8" font-size="51" text-anchor="start" fill="#000">f</text>
</svg>
</body></html>
